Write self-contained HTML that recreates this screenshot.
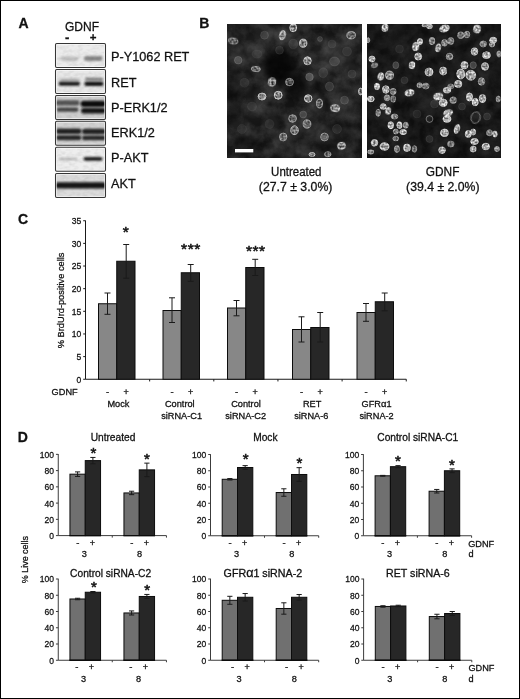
<!DOCTYPE html>
<html lang="en"><head><meta charset="utf-8"><title>Figure</title>
<style>html,body{margin:0;padding:0;background:#fff;}svg{display:block;}text{font-family:"Liberation Sans", Arial, Helvetica, sans-serif;fill:#111;stroke:#111;stroke-width:0.28px;}</style></head><body>
<svg width="520" height="699" viewBox="0 0 520 699">
<defs>
<filter id="b0" x="-20%" y="-100%" width="140%" height="300%"><feGaussianBlur stdDeviation="1.2 0.75"/></filter>
<filter id="b1" x="-20%" y="-100%" width="140%" height="300%"><feGaussianBlur stdDeviation="1.1 0.9"/></filter>
<filter id="b2" x="-20%" y="-100%" width="140%" height="300%"><feGaussianBlur stdDeviation="1.6 1.3"/></filter>
<filter id="b3" x="-50%" y="-50%" width="200%" height="200%"><feGaussianBlur stdDeviation="3"/></filter>
<filter id="n1" x="-30%" y="-30%" width="160%" height="160%"><feGaussianBlur stdDeviation="0.45"/></filter>
<filter id="n3" x="-30%" y="-30%" width="160%" height="160%"><feGaussianBlur stdDeviation="0.7"/></filter>
<filter id="cb" x="-5%" y="-5%" width="110%" height="110%"><feGaussianBlur stdDeviation="1.3"/></filter>
<filter id="n2" x="-30%" y="-30%" width="160%" height="160%"><feGaussianBlur stdDeviation="1.2"/></filter>
<filter id="sp" x="-5%" y="-5%" width="110%" height="110%" color-interpolation-filters="sRGB"><feTurbulence type="fractalNoise" baseFrequency="0.5" numOctaves="2" seed="3" result="t"/><feColorMatrix in="t" type="matrix" values="0 0 0 0 0  0 0 0 0 0  0 0 0 0 0  2.4 0 0 0 -0.68" result="m"/><feGaussianBlur in="SourceGraphic" stdDeviation="0.4" result="s"/><feComposite in="s" in2="m" operator="in"/></filter>
<filter id="tx1" x="0" y="0" width="100%" height="100%" color-interpolation-filters="sRGB"><feTurbulence type="fractalNoise" baseFrequency="0.07" numOctaves="5" seed="11"/><feColorMatrix type="matrix" values="0.28 0 0 0 -0.092  0.28 0 0 0 -0.092  0.28 0 0 0 -0.092  0 0 0 0 1"/></filter>
<filter id="tx2" x="0" y="0" width="100%" height="100%" color-interpolation-filters="sRGB"><feTurbulence type="fractalNoise" baseFrequency="0.1" numOctaves="5" seed="5"/><feColorMatrix type="matrix" values="0.13 0 0 0 -0.04  0.13 0 0 0 -0.04  0.13 0 0 0 -0.04  0 0 0 0 1"/></filter>
<filter id="bn" x="0" y="0" width="100%" height="100%" color-interpolation-filters="sRGB"><feTurbulence type="fractalNoise" baseFrequency="0.18 0.3" numOctaves="2" seed="2"/><feColorMatrix type="matrix" values="0 0 0 0 0  0 0 0 0 0  0 0 0 0 0  0.9 0 0 0 -0.33"/></filter>
<radialGradient id="gN"><stop offset="0" stop-color="#fff" stop-opacity="0.55"/><stop offset="0.7" stop-color="#fff" stop-opacity="0.6"/><stop offset="1" stop-color="#fff" stop-opacity="0.95"/></radialGradient>
</defs>
<rect x="0" y="0" width="520" height="699" fill="#fff"/>
<text x="18.60" y="27.80" font-size="14" text-anchor="start" font-weight="bold" >A</text>
<text x="199.30" y="27.80" font-size="14" text-anchor="start" font-weight="bold" >B</text>
<text x="18.00" y="223.80" font-size="14" text-anchor="start" font-weight="bold" >C</text>
<text x="17.80" y="441.80" font-size="14" text-anchor="start" font-weight="bold" >D</text>
<text x="82.00" y="31.00" font-size="12" text-anchor="middle" font-weight="normal" >GDNF</text>
<text x="67.20" y="42.00" font-size="13" text-anchor="middle" font-weight="bold" >-</text>
<text x="93.20" y="40.60" font-size="11.5" text-anchor="middle" font-weight="bold" >+</text>
<clipPath id="cb0"><rect x="55.5" y="43.5" width="50.0" height="24.0"/></clipPath>
<rect x="55.5" y="43.5" width="50.0" height="24.0" fill="#ececec"/>
<g clip-path="url(#cb0)">
<rect x="60.5" y="56.50" width="18.0" height="4.6" rx="2.30" fill="#aaa" opacity="0.7" filter="url(#b2)"/>
<rect x="84" y="56.10" width="18.5" height="5" rx="2.50" fill="#777" opacity="0.85" filter="url(#b1)"/>
<rect x="55.5" y="43.5" width="50.0" height="24.0" filter="url(#bn)" opacity="0.16"/>
</g>
<rect x="56.5" y="44.5" width="48.0" height="22.0" fill="none" stroke="#fff" stroke-opacity="0.55" stroke-width="1"/>
<rect x="55.5" y="43.5" width="50.0" height="24.0" rx="1.2" fill="none" stroke="#363636" stroke-width="1.05"/>
<text x="111.10" y="61.20" font-size="12.7" text-anchor="start" font-weight="normal" >P-Y1062 RET</text>
<clipPath id="cb1"><rect x="55.5" y="69.5" width="50.0" height="24.0"/></clipPath>
<rect x="55.5" y="69.5" width="50.0" height="24.0" fill="#e8e8e8"/>
<g clip-path="url(#cb1)">
<rect x="58.5" y="81.55" width="21.5" height="4.3" rx="2.15" fill="#1c1c1c" opacity="1" filter="url(#b1)"/>
<rect x="60" y="78.40" width="19" height="3.2" rx="1.60" fill="#888" opacity="0.6" filter="url(#b2)"/>
<rect x="84.3" y="81.50" width="19.200000000000003" height="4.4" rx="2.20" fill="#181818" opacity="1" filter="url(#b1)"/>
<rect x="85" y="77.80" width="18" height="2.8" rx="1.40" fill="#5a5a5a" opacity="0.8" filter="url(#b1)"/>
<rect x="55.5" y="69.5" width="50.0" height="24.0" filter="url(#bn)" opacity="0.16"/>
</g>
<rect x="56.5" y="70.5" width="48.0" height="22.0" fill="none" stroke="#fff" stroke-opacity="0.55" stroke-width="1"/>
<rect x="55.5" y="69.5" width="50.0" height="24.0" rx="1.2" fill="none" stroke="#363636" stroke-width="1.05"/>
<text x="111.10" y="86.50" font-size="12.7" text-anchor="start" font-weight="normal" >RET</text>
<clipPath id="cb2"><rect x="55.5" y="95.5" width="50.0" height="24.0"/></clipPath>
<rect x="55.5" y="95.5" width="50.0" height="24.0" fill="#cfcfcf"/>
<g clip-path="url(#cb2)">
<rect x="55.5" y="100.30" width="24.0" height="5.2" rx="2.60" fill="#484848" opacity="0.92" filter="url(#b1)"/>
<rect x="56.5" y="107.60" width="22.0" height="4.2" rx="2.10" fill="#383838" opacity="0.92" filter="url(#b1)"/>
<rect x="80.5" y="100.70" width="25.5" height="6.2" rx="3.10" fill="#111" opacity="1" filter="url(#b1)"/>
<rect x="81" y="108.10" width="25" height="5.4" rx="2.70" fill="#141414" opacity="1" filter="url(#b1)"/>
<rect x="55.5" y="95.5" width="50.0" height="24.0" filter="url(#bn)" opacity="0.16"/>
</g>
<rect x="56.5" y="96.5" width="48.0" height="22.0" fill="none" stroke="#fff" stroke-opacity="0.55" stroke-width="1"/>
<rect x="55.5" y="95.5" width="50.0" height="24.0" rx="1.2" fill="none" stroke="#363636" stroke-width="1.05"/>
<text x="111.10" y="111.80" font-size="12.7" text-anchor="start" font-weight="normal" >P-ERK1/2</text>
<clipPath id="cb3"><rect x="55.5" y="121.3" width="50.0" height="24.0"/></clipPath>
<rect x="55.5" y="121.3" width="50.0" height="24.0" fill="#d2d2d2"/>
<g clip-path="url(#cb3)">
<rect x="56" y="128.45" width="25.5" height="5.5" rx="2.75" fill="#1e1e1e" opacity="0.97" filter="url(#b1)"/>
<rect x="82" y="128.65" width="24" height="5.5" rx="2.75" fill="#1e1e1e" opacity="0.97" filter="url(#b1)"/>
<rect x="56" y="135.25" width="25.5" height="4.9" rx="2.45" fill="#222" opacity="0.97" filter="url(#b1)"/>
<rect x="82" y="135.45" width="24" height="4.9" rx="2.45" fill="#222" opacity="0.97" filter="url(#b1)"/>
<rect x="55.5" y="121.3" width="50.0" height="24.0" filter="url(#bn)" opacity="0.16"/>
</g>
<rect x="56.5" y="122.3" width="48.0" height="22.0" fill="none" stroke="#fff" stroke-opacity="0.55" stroke-width="1"/>
<rect x="55.5" y="121.3" width="50.0" height="24.0" rx="1.2" fill="none" stroke="#363636" stroke-width="1.05"/>
<text x="111.10" y="137.10" font-size="12.7" text-anchor="start" font-weight="normal" >ERK1/2</text>
<clipPath id="cb4"><rect x="55.5" y="147.3" width="50.0" height="24.0"/></clipPath>
<rect x="55.5" y="147.3" width="50.0" height="24.0" fill="#eeeeee"/>
<g clip-path="url(#cb4)">
<rect x="58.5" y="157.70" width="19.0" height="2.2" rx="1.10" fill="#999" opacity="0.7" filter="url(#b1)"/>
<rect x="83.5" y="156.90" width="19.0" height="3.8" rx="1.90" fill="#1a1a1a" opacity="1" filter="url(#b1)"/>
<rect x="55.5" y="147.3" width="50.0" height="24.0" filter="url(#bn)" opacity="0.16"/>
</g>
<rect x="56.5" y="148.3" width="48.0" height="22.0" fill="none" stroke="#fff" stroke-opacity="0.55" stroke-width="1"/>
<rect x="55.5" y="147.3" width="50.0" height="24.0" rx="1.2" fill="none" stroke="#363636" stroke-width="1.05"/>
<text x="111.10" y="162.40" font-size="12.7" text-anchor="start" font-weight="normal" >P-AKT</text>
<clipPath id="cb5"><rect x="55.5" y="173.4" width="50.0" height="24.0"/></clipPath>
<rect x="55.5" y="173.4" width="50.0" height="24.0" fill="#dcdcdc"/>
<g clip-path="url(#cb5)">
<rect x="55" y="182.20" width="52" height="6.4" rx="3.20" fill="#141414" opacity="1" filter="url(#b2)"/>
<rect x="55.5" y="173.4" width="50.0" height="24.0" filter="url(#bn)" opacity="0.16"/>
</g>
<rect x="56.5" y="174.4" width="48.0" height="22.0" fill="none" stroke="#fff" stroke-opacity="0.55" stroke-width="1"/>
<rect x="55.5" y="173.4" width="50.0" height="24.0" rx="1.2" fill="none" stroke="#363636" stroke-width="1.05"/>
<text x="111.10" y="187.70" font-size="12.7" text-anchor="start" font-weight="normal" >AKT</text>
<clipPath id="cm1"><rect x="227" y="24" width="135" height="134"/></clipPath>
<rect x="227" y="24" width="135" height="134" fill="#141414"/>
<rect x="227" y="24" width="135" height="134" filter="url(#tx1)" opacity="1" style="mix-blend-mode:screen"/>
<g clip-path="url(#cm1)">
<g filter="url(#cb)">
<ellipse cx="236.7" cy="61.1" rx="8.8" ry="9.6" fill="#fff" fill-opacity="0.042" transform="rotate(49 236.7 61.1)"/>
<ellipse cx="308.5" cy="77.9" rx="8.9" ry="7.9" fill="#fff" fill-opacity="0.042" transform="rotate(123 308.5 77.9)"/>
<ellipse cx="302.8" cy="115.6" rx="6.9" ry="7.2" fill="#fff" fill-opacity="0.042" transform="rotate(162 302.8 115.6)"/>
<ellipse cx="328.9" cy="85.5" rx="9.9" ry="10.5" fill="#fff" fill-opacity="0.042" transform="rotate(27 328.9 85.5)"/>
<ellipse cx="334.7" cy="62.2" rx="10.1" ry="10.6" fill="#fff" fill-opacity="0.042" transform="rotate(22 334.7 62.2)"/>
<ellipse cx="263.8" cy="33.6" rx="8.2" ry="10.3" fill="#fff" fill-opacity="0.042" transform="rotate(73 263.8 33.6)"/>
<ellipse cx="322.0" cy="38.8" rx="5.8" ry="6.3" fill="#fff" fill-opacity="0.042" transform="rotate(124 322.0 38.8)"/>
<ellipse cx="342.9" cy="100.6" rx="9.4" ry="8.1" fill="#fff" fill-opacity="0.042" transform="rotate(17 342.9 100.6)"/>
<ellipse cx="281.0" cy="50.3" rx="8.1" ry="8.9" fill="#fff" fill-opacity="0.042" transform="rotate(39 281.0 50.3)"/>
<ellipse cx="294.4" cy="44.0" rx="8.9" ry="12.4" fill="#fff" fill-opacity="0.042" transform="rotate(16 294.4 44.0)"/>
<ellipse cx="322.4" cy="70.9" rx="10.9" ry="9.9" fill="#fff" fill-opacity="0.042" transform="rotate(95 322.4 70.9)"/>
<ellipse cx="242.9" cy="82.7" rx="10.7" ry="10.2" fill="#fff" fill-opacity="0.042" transform="rotate(82 242.9 82.7)"/>
<ellipse cx="346.9" cy="51.2" rx="10.4" ry="8.8" fill="#fff" fill-opacity="0.042" transform="rotate(85 346.9 51.2)"/>
<ellipse cx="250.9" cy="108.0" rx="11.5" ry="8.8" fill="#fff" fill-opacity="0.042" transform="rotate(26 250.9 108.0)"/>
<ellipse cx="270.3" cy="124.3" rx="8.6" ry="10.8" fill="#fff" fill-opacity="0.042" transform="rotate(170 270.3 124.3)"/>
<ellipse cx="336.7" cy="128.4" rx="10.3" ry="11.5" fill="#fff" fill-opacity="0.042" transform="rotate(47 336.7 128.4)"/>
<ellipse cx="241.2" cy="127.8" rx="10.5" ry="10.0" fill="#fff" fill-opacity="0.042" transform="rotate(46 241.2 127.8)"/>
<ellipse cx="351.6" cy="72.1" rx="8.5" ry="10.4" fill="#fff" fill-opacity="0.042" transform="rotate(105 351.6 72.1)"/>
<ellipse cx="331.1" cy="45.7" rx="8.6" ry="8.3" fill="#fff" fill-opacity="0.042" transform="rotate(6 331.1 45.7)"/>
<ellipse cx="255.6" cy="52.8" rx="10.3" ry="10.0" fill="#fff" fill-opacity="0.042" transform="rotate(48 255.6 52.8)"/>
<ellipse cx="292.2" cy="28.2" rx="9.5" ry="8.8" fill="#fff" fill-opacity="0.042" transform="rotate(137 292.2 28.2)"/>
<ellipse cx="282.0" cy="35.5" rx="7.0" ry="12.5" fill="#fff" fill-opacity="0.042" transform="rotate(136 282.0 35.5)"/>
<ellipse cx="303.3" cy="44.6" rx="8.5" ry="9.6" fill="#fff" fill-opacity="0.042" transform="rotate(173 303.3 44.6)"/>
<ellipse cx="351.4" cy="36.3" rx="9.9" ry="10.0" fill="#fff" fill-opacity="0.042" transform="rotate(110 351.4 36.3)"/>
<ellipse cx="232.2" cy="42.7" rx="11.4" ry="7.0" fill="#fff" fill-opacity="0.042" transform="rotate(47 232.2 42.7)"/>
<ellipse cx="254.2" cy="67.8" rx="11.1" ry="5.6" fill="#fff" fill-opacity="0.042" transform="rotate(47 254.2 67.8)"/>
<ellipse cx="307.3" cy="60.9" rx="8.6" ry="10.3" fill="#fff" fill-opacity="0.042" transform="rotate(46 307.3 60.9)"/>
<ellipse cx="271.5" cy="81.7" rx="7.9" ry="9.1" fill="#fff" fill-opacity="0.042" transform="rotate(26 271.5 81.7)"/>
<ellipse cx="290.4" cy="80.6" rx="9.9" ry="8.1" fill="#fff" fill-opacity="0.042" transform="rotate(116 290.4 80.6)"/>
<ellipse cx="262.6" cy="95.9" rx="10.7" ry="8.8" fill="#fff" fill-opacity="0.042" transform="rotate(100 262.6 95.9)"/>
<ellipse cx="276.4" cy="94.9" rx="8.7" ry="9.3" fill="#fff" fill-opacity="0.042" transform="rotate(168 276.4 94.9)"/>
<ellipse cx="309.7" cy="96.7" rx="9.4" ry="10.1" fill="#fff" fill-opacity="0.042" transform="rotate(98 309.7 96.7)"/>
<ellipse cx="317.9" cy="105.0" rx="7.2" ry="12.0" fill="#fff" fill-opacity="0.042" transform="rotate(157 317.9 105.0)"/>
<ellipse cx="336.6" cy="110.0" rx="9.1" ry="9.1" fill="#fff" fill-opacity="0.042" transform="rotate(55 336.6 110.0)"/>
<ellipse cx="291.0" cy="118.0" rx="9.7" ry="7.5" fill="#fff" fill-opacity="0.042" transform="rotate(81 291.0 118.0)"/>
<ellipse cx="308.1" cy="124.0" rx="9.5" ry="9.3" fill="#fff" fill-opacity="0.042" transform="rotate(175 308.1 124.0)"/>
<ellipse cx="293.5" cy="131.0" rx="9.8" ry="8.8" fill="#fff" fill-opacity="0.042" transform="rotate(179 293.5 131.0)"/>
<ellipse cx="282.2" cy="139.0" rx="10.1" ry="10.6" fill="#fff" fill-opacity="0.042" transform="rotate(154 282.2 139.0)"/>
<ellipse cx="324.1" cy="136.8" rx="9.0" ry="10.7" fill="#fff" fill-opacity="0.042" transform="rotate(5 324.1 136.8)"/>
<ellipse cx="340.0" cy="147.6" rx="10.3" ry="8.9" fill="#fff" fill-opacity="0.042" transform="rotate(174 340.0 147.6)"/>
<ellipse cx="312.1" cy="155.8" rx="7.2" ry="5.9" fill="#fff" fill-opacity="0.042" transform="rotate(13 312.1 155.8)"/>
<ellipse cx="360.3" cy="91.8" rx="5.7" ry="8.2" fill="#fff" fill-opacity="0.042" transform="rotate(123 360.3 91.8)"/>
<ellipse cx="329.6" cy="153.9" rx="7.1" ry="5.4" fill="#fff" fill-opacity="0.042" transform="rotate(155 329.6 153.9)"/>
</g>
<ellipse cx="270.7" cy="44.2" rx="10.9" ry="7.4" fill="#555" opacity="0.05" filter="url(#b3)"/>
<ellipse cx="276.4" cy="31.8" rx="10.0" ry="7.2" fill="#555" opacity="0.05" filter="url(#b3)"/>
<ellipse cx="236.4" cy="36.2" rx="9.5" ry="12.0" fill="#555" opacity="0.03" filter="url(#b3)"/>
<ellipse cx="257.1" cy="108.1" rx="12.7" ry="10.5" fill="#555" opacity="0.04" filter="url(#b3)"/>
<ellipse cx="358.8" cy="30.2" rx="12.2" ry="8.7" fill="#555" opacity="0.03" filter="url(#b3)"/>
<ellipse cx="242.9" cy="65.3" rx="11.9" ry="8.1" fill="#555" opacity="0.05" filter="url(#b3)"/>
<ellipse cx="313.3" cy="73.9" rx="10.3" ry="7.4" fill="#555" opacity="0.02" filter="url(#b3)"/>
<ellipse cx="254.8" cy="115.2" rx="9.6" ry="8.9" fill="#555" opacity="0.06" filter="url(#b3)"/>
<ellipse cx="288.2" cy="64.2" rx="11.8" ry="11.2" fill="#555" opacity="0.03" filter="url(#b3)"/>
<ellipse cx="304.5" cy="94.4" rx="12.3" ry="11.4" fill="#555" opacity="0.04" filter="url(#b3)"/>
<ellipse cx="359.3" cy="39.8" rx="9.5" ry="11.5" fill="#555" opacity="0.03" filter="url(#b3)"/>
<ellipse cx="293.0" cy="29.3" rx="11.0" ry="11.6" fill="#555" opacity="0.05" filter="url(#b3)"/>
<ellipse cx="345.2" cy="66.0" rx="11.2" ry="10.6" fill="#555" opacity="0.05" filter="url(#b3)"/>
<ellipse cx="288.6" cy="136.6" rx="12.7" ry="9.8" fill="#555" opacity="0.06" filter="url(#b3)"/>
<ellipse cx="235.2" cy="118.0" rx="10.9" ry="13.0" fill="#555" opacity="0.07" filter="url(#b3)"/>
<ellipse cx="265.4" cy="75.7" rx="11.0" ry="7.1" fill="#555" opacity="0.05" filter="url(#b3)"/>
<ellipse cx="249.7" cy="39.7" rx="7.4" ry="11.6" fill="#555" opacity="0.03" filter="url(#b3)"/>
<ellipse cx="260.4" cy="76.4" rx="12.2" ry="7.5" fill="#555" opacity="0.05" filter="url(#b3)"/>
<ellipse cx="301.2" cy="142.4" rx="11.9" ry="12.2" fill="#555" opacity="0.04" filter="url(#b3)"/>
<ellipse cx="283.1" cy="72.1" rx="12.3" ry="12.7" fill="#555" opacity="0.03" filter="url(#b3)"/>
<ellipse cx="250.8" cy="55.1" rx="8.4" ry="9.9" fill="#555" opacity="0.06" filter="url(#b3)"/>
<ellipse cx="262.5" cy="24.5" rx="9.5" ry="9.2" fill="#555" opacity="0.05" filter="url(#b3)"/>
<ellipse cx="355.7" cy="116.5" rx="10.1" ry="10.7" fill="#555" opacity="0.06" filter="url(#b3)"/>
<ellipse cx="234.3" cy="144.5" rx="11.7" ry="12.2" fill="#555" opacity="0.07" filter="url(#b3)"/>
<ellipse cx="280.0" cy="77.5" rx="7.6" ry="10.8" fill="#555" opacity="0.02" filter="url(#b3)"/>
<ellipse cx="236.1" cy="52.0" rx="8.0" ry="9.0" fill="#555" opacity="0.02" filter="url(#b3)"/>
<ellipse cx="227.0" cy="44.3" rx="7.6" ry="9.2" fill="#555" opacity="0.02" filter="url(#b3)"/>
<ellipse cx="345.0" cy="106.3" rx="7.9" ry="8.5" fill="#555" opacity="0.04" filter="url(#b3)"/>
<ellipse cx="276.2" cy="40.5" rx="12.1" ry="13.0" fill="#555" opacity="0.05" filter="url(#b3)"/>
<ellipse cx="292.3" cy="35.5" rx="7.6" ry="9.1" fill="#555" opacity="0.04" filter="url(#b3)"/>
<ellipse cx="338.9" cy="45.6" rx="7.1" ry="12.7" fill="#555" opacity="0.05" filter="url(#b3)"/>
<ellipse cx="246.8" cy="96.8" rx="7.2" ry="10.2" fill="#555" opacity="0.08" filter="url(#b3)"/>
<ellipse cx="343.5" cy="117.3" rx="8.6" ry="9.2" fill="#555" opacity="0.03" filter="url(#b3)"/>
<ellipse cx="331.2" cy="95.4" rx="11.7" ry="9.0" fill="#555" opacity="0.03" filter="url(#b3)"/>
<ellipse cx="336.6" cy="156.0" rx="12.1" ry="11.8" fill="#555" opacity="0.07" filter="url(#b3)"/>
<ellipse cx="326.9" cy="54.4" rx="10.1" ry="9.1" fill="#555" opacity="0.02" filter="url(#b3)"/>
<ellipse cx="230.8" cy="61.4" rx="8.6" ry="11.2" fill="#555" opacity="0.08" filter="url(#b3)"/>
<ellipse cx="287.4" cy="149.6" rx="12.9" ry="12.7" fill="#555" opacity="0.04" filter="url(#b3)"/>
<ellipse cx="256.8" cy="54.4" rx="8.2" ry="8.2" fill="#555" opacity="0.06" filter="url(#b3)"/>
<ellipse cx="348.5" cy="136.6" rx="9.9" ry="10.9" fill="#555" opacity="0.07" filter="url(#b3)"/>
<ellipse cx="279.0" cy="66.0" rx="16.0" ry="18.0" fill="#000" opacity="0.75" filter="url(#b3)"/>
<ellipse cx="297.0" cy="86.0" rx="12.0" ry="14.0" fill="#000" opacity="0.6" filter="url(#b3)"/>
<ellipse cx="247.0" cy="144.0" rx="14.0" ry="10.0" fill="#000" opacity="0.35" filter="url(#b3)"/>
<ellipse cx="327.0" cy="149.0" rx="10.0" ry="8.0" fill="#000" opacity="0.3" filter="url(#b3)"/>
<ellipse cx="235.0" cy="94.0" rx="6.0" ry="30.0" fill="#000" opacity="0.4" filter="url(#b3)"/>
<ellipse cx="339.0" cy="132.0" rx="16.0" ry="14.0" fill="#000" opacity="0.3" filter="url(#b3)"/>
<ellipse cx="322.0" cy="84.0" rx="10.0" ry="10.0" fill="#000" opacity="0.25" filter="url(#b3)"/>
<ellipse cx="332.0" cy="54.0" rx="22.0" ry="16.0" fill="#666" opacity="0.12" filter="url(#b3)"/>
<ellipse cx="345.0" cy="99.0" rx="14.0" ry="22.0" fill="#666" opacity="0.1" filter="url(#b3)"/>
<ellipse cx="257.0" cy="49.0" rx="18.0" ry="12.0" fill="#666" opacity="0.1" filter="url(#b3)"/>
<ellipse cx="312.0" cy="124.0" rx="18.0" ry="12.0" fill="#666" opacity="0.06" filter="url(#b3)"/>
<ellipse cx="238.2" cy="60.2" rx="3.8" ry="3.8" fill="#fff" fill-opacity="0.15" stroke="#fff" stroke-opacity="0.17" stroke-width="0.8" filter="url(#n3)" transform="rotate(0 238.2 60.2)"/>
<ellipse cx="309.5" cy="77.0" rx="3.8" ry="3.8" fill="#fff" fill-opacity="0.18" stroke="#fff" stroke-opacity="0.19" stroke-width="0.8" filter="url(#n3)" transform="rotate(0 309.5 77.0)"/>
<ellipse cx="303.2" cy="114.5" rx="3.5" ry="3.5" fill="#fff" fill-opacity="0.14" stroke="#fff" stroke-opacity="0.15" stroke-width="0.8" filter="url(#n3)" transform="rotate(0 303.2 114.5)"/>
<ellipse cx="329.5" cy="86.5" rx="4.0" ry="4.5" fill="#fff" fill-opacity="0.11" stroke="#fff" stroke-opacity="0.12" stroke-width="0.8" filter="url(#n3)" transform="rotate(0 329.5 86.5)"/>
<ellipse cx="334.5" cy="61.5" rx="5.0" ry="4.5" fill="#fff" fill-opacity="0.11" stroke="#fff" stroke-opacity="0.12" stroke-width="0.8" filter="url(#n3)" transform="rotate(0 334.5 61.5)"/>
<ellipse cx="264.5" cy="35.2" rx="4.0" ry="4.0" fill="#fff" fill-opacity="0.09" stroke="#fff" stroke-opacity="0.10" stroke-width="0.8" filter="url(#n3)" transform="rotate(0 264.5 35.2)"/>
<ellipse cx="320.0" cy="39.0" rx="2.5" ry="2.5" fill="#fff" fill-opacity="0.11" stroke="#fff" stroke-opacity="0.12" stroke-width="0.8" filter="url(#n3)" transform="rotate(0 320.0 39.0)"/>
<ellipse cx="344.5" cy="100.2" rx="4.0" ry="4.0" fill="#fff" fill-opacity="0.11" stroke="#fff" stroke-opacity="0.12" stroke-width="0.8" filter="url(#n3)" transform="rotate(0 344.5 100.2)"/>
<ellipse cx="279.5" cy="50.2" rx="4.0" ry="4.0" fill="#fff" fill-opacity="0.08" stroke="#fff" stroke-opacity="0.08" stroke-width="0.8" filter="url(#n3)" transform="rotate(0 279.5 50.2)"/>
<ellipse cx="293.2" cy="44.0" rx="4.5" ry="5.0" fill="#fff" fill-opacity="0.07" stroke="#fff" stroke-opacity="0.07" stroke-width="0.8" filter="url(#n3)" transform="rotate(0 293.2 44.0)"/>
<ellipse cx="323.2" cy="72.8" rx="4.5" ry="5.0" fill="#fff" fill-opacity="0.08" stroke="#fff" stroke-opacity="0.08" stroke-width="0.8" filter="url(#n3)" transform="rotate(0 323.2 72.8)"/>
<ellipse cx="244.5" cy="82.8" rx="4.5" ry="4.5" fill="#fff" fill-opacity="0.06" stroke="#fff" stroke-opacity="0.06" stroke-width="0.8" filter="url(#n3)" transform="rotate(0 244.5 82.8)"/>
<ellipse cx="347.0" cy="51.5" rx="4.5" ry="4.5" fill="#fff" fill-opacity="0.07" stroke="#fff" stroke-opacity="0.07" stroke-width="0.8" filter="url(#n3)" transform="rotate(0 347.0 51.5)"/>
<ellipse cx="252.0" cy="106.5" rx="4.5" ry="4.5" fill="#fff" fill-opacity="0.06" stroke="#fff" stroke-opacity="0.06" stroke-width="0.8" filter="url(#n3)" transform="rotate(0 252.0 106.5)"/>
<ellipse cx="269.5" cy="124.0" rx="4.5" ry="4.5" fill="#fff" fill-opacity="0.06" stroke="#fff" stroke-opacity="0.06" stroke-width="0.8" filter="url(#n3)" transform="rotate(0 269.5 124.0)"/>
<ellipse cx="337.0" cy="129.0" rx="4.5" ry="4.5" fill="#fff" fill-opacity="0.07" stroke="#fff" stroke-opacity="0.07" stroke-width="0.8" filter="url(#n3)" transform="rotate(0 337.0 129.0)"/>
<ellipse cx="242.0" cy="129.0" rx="4.5" ry="4.5" fill="#fff" fill-opacity="0.04" stroke="#fff" stroke-opacity="0.05" stroke-width="0.8" filter="url(#n3)" transform="rotate(0 242.0 129.0)"/>
<ellipse cx="352.0" cy="74.0" rx="4.0" ry="4.0" fill="#fff" fill-opacity="0.07" stroke="#fff" stroke-opacity="0.07" stroke-width="0.8" filter="url(#n3)" transform="rotate(0 352.0 74.0)"/>
<ellipse cx="332.0" cy="44.0" rx="4.0" ry="4.0" fill="#fff" fill-opacity="0.06" stroke="#fff" stroke-opacity="0.06" stroke-width="0.8" filter="url(#n3)" transform="rotate(0 332.0 44.0)"/>
<ellipse cx="257.0" cy="54.0" rx="5.0" ry="4.0" fill="#fff" fill-opacity="0.04" stroke="#fff" stroke-opacity="0.05" stroke-width="0.8" filter="url(#n3)" transform="rotate(0 257.0 54.0)"/>
<g filter="url(#sp)">
<ellipse cx="293.2" cy="27.8" rx="3.7" ry="4.2" fill="#fff" opacity="0.67" transform="rotate(0 293.2 27.8)"/>
<ellipse cx="282.5" cy="35.2" rx="3.0" ry="4.9" fill="#fff" opacity="0.67" transform="rotate(15 282.5 35.2)"/>
<ellipse cx="303.2" cy="43.2" rx="4.0" ry="4.4" fill="#fff" opacity="0.62" transform="rotate(0 303.2 43.2)"/>
<ellipse cx="351.2" cy="35.2" rx="4.7" ry="4.0" fill="#fff" opacity="0.44" transform="rotate(0 351.2 35.2)"/>
<ellipse cx="233.2" cy="41.0" rx="5.1" ry="3.3" fill="#fff" opacity="0.40" transform="rotate(10 233.2 41.0)"/>
<ellipse cx="255.8" cy="69.0" rx="4.7" ry="2.8" fill="#fff" opacity="0.48" transform="rotate(5 255.8 69.0)"/>
<ellipse cx="307.5" cy="60.8" rx="4.0" ry="4.2" fill="#fff" opacity="0.62" transform="rotate(0 307.5 60.8)"/>
<ellipse cx="272.0" cy="82.0" rx="4.0" ry="4.4" fill="#fff" opacity="0.67" transform="rotate(10 272.0 82.0)"/>
<ellipse cx="289.5" cy="82.0" rx="4.2" ry="4.0" fill="#fff" opacity="0.44" transform="rotate(0 289.5 82.0)"/>
<ellipse cx="262.0" cy="96.5" rx="4.2" ry="3.7" fill="#fff" opacity="0.62" transform="rotate(0 262.0 96.5)"/>
<ellipse cx="278.2" cy="95.2" rx="4.2" ry="4.2" fill="#fff" opacity="0.67" transform="rotate(0 278.2 95.2)"/>
<ellipse cx="308.2" cy="98.5" rx="4.0" ry="4.0" fill="#fff" opacity="0.67" transform="rotate(0 308.2 98.5)"/>
<ellipse cx="319.5" cy="103.5" rx="3.3" ry="4.7" fill="#fff" opacity="0.44" transform="rotate(0 319.5 103.5)"/>
<ellipse cx="335.2" cy="108.2" rx="4.7" ry="3.7" fill="#fff" opacity="0.67" transform="rotate(10 335.2 108.2)"/>
<ellipse cx="292.5" cy="118.5" rx="4.2" ry="4.0" fill="#fff" opacity="0.44" transform="rotate(0 292.5 118.5)"/>
<ellipse cx="307.0" cy="124.0" rx="4.2" ry="4.4" fill="#fff" opacity="0.48" transform="rotate(0 307.0 124.0)"/>
<ellipse cx="294.5" cy="130.2" rx="4.2" ry="4.7" fill="#fff" opacity="0.53" transform="rotate(0 294.5 130.2)"/>
<ellipse cx="283.2" cy="137.0" rx="4.0" ry="4.2" fill="#fff" opacity="0.44" transform="rotate(0 283.2 137.0)"/>
<ellipse cx="324.5" cy="137.0" rx="4.2" ry="4.2" fill="#fff" opacity="0.40" transform="rotate(0 324.5 137.0)"/>
<ellipse cx="341.5" cy="145.8" rx="4.2" ry="3.7" fill="#fff" opacity="0.67" transform="rotate(-10 341.5 145.8)"/>
<ellipse cx="312.0" cy="154.5" rx="3.3" ry="2.3" fill="#fff" opacity="0.53" transform="rotate(0 312.0 154.5)"/>
<ellipse cx="360.5" cy="91.5" rx="2.3" ry="3.7" fill="#fff" opacity="0.53" transform="rotate(0 360.5 91.5)"/>
<ellipse cx="327.8" cy="154.2" rx="3.5" ry="2.8" fill="#fff" opacity="0.44" transform="rotate(0 327.8 154.2)"/>
</g>
<ellipse cx="293.2" cy="27.8" rx="3.4" ry="3.9" fill="#fff" fill-opacity="0.09" stroke="#fff" stroke-opacity="0.79" stroke-width="0.75" filter="url(#n1)" transform="rotate(0 293.2 27.8)"/>
<ellipse cx="282.5" cy="35.2" rx="2.7" ry="4.6" fill="#fff" fill-opacity="0.09" stroke="#fff" stroke-opacity="0.79" stroke-width="0.75" filter="url(#n1)" transform="rotate(15 282.5 35.2)"/>
<ellipse cx="303.2" cy="43.2" rx="3.7" ry="4.1" fill="#fff" fill-opacity="0.09" stroke="#fff" stroke-opacity="0.73" stroke-width="0.75" filter="url(#n1)" transform="rotate(0 303.2 43.2)"/>
<ellipse cx="351.2" cy="35.2" rx="4.4" ry="3.7" fill="#fff" fill-opacity="0.06" stroke="#fff" stroke-opacity="0.52" stroke-width="0.75" filter="url(#n1)" transform="rotate(0 351.2 35.2)"/>
<ellipse cx="233.2" cy="41.0" rx="4.8" ry="3.0" fill="#fff" fill-opacity="0.06" stroke="#fff" stroke-opacity="0.47" stroke-width="0.75" filter="url(#n1)" transform="rotate(10 233.2 41.0)"/>
<ellipse cx="255.8" cy="69.0" rx="4.4" ry="2.5" fill="#fff" fill-opacity="0.07" stroke="#fff" stroke-opacity="0.57" stroke-width="0.75" filter="url(#n1)" transform="rotate(5 255.8 69.0)"/>
<ellipse cx="307.5" cy="60.8" rx="3.7" ry="3.9" fill="#fff" fill-opacity="0.09" stroke="#fff" stroke-opacity="0.73" stroke-width="0.75" filter="url(#n1)" transform="rotate(0 307.5 60.8)"/>
<ellipse cx="272.0" cy="82.0" rx="3.7" ry="4.1" fill="#fff" fill-opacity="0.09" stroke="#fff" stroke-opacity="0.79" stroke-width="0.75" filter="url(#n1)" transform="rotate(10 272.0 82.0)"/>
<ellipse cx="289.5" cy="82.0" rx="3.9" ry="3.7" fill="#fff" fill-opacity="0.06" stroke="#fff" stroke-opacity="0.52" stroke-width="0.75" filter="url(#n1)" transform="rotate(0 289.5 82.0)"/>
<ellipse cx="262.0" cy="96.5" rx="3.9" ry="3.4" fill="#fff" fill-opacity="0.09" stroke="#fff" stroke-opacity="0.73" stroke-width="0.75" filter="url(#n1)" transform="rotate(0 262.0 96.5)"/>
<ellipse cx="278.2" cy="95.2" rx="3.9" ry="3.9" fill="#fff" fill-opacity="0.09" stroke="#fff" stroke-opacity="0.79" stroke-width="0.75" filter="url(#n1)" transform="rotate(0 278.2 95.2)"/>
<ellipse cx="308.2" cy="98.5" rx="3.7" ry="3.7" fill="#fff" fill-opacity="0.09" stroke="#fff" stroke-opacity="0.79" stroke-width="0.75" filter="url(#n1)" transform="rotate(0 308.2 98.5)"/>
<ellipse cx="319.5" cy="103.5" rx="3.0" ry="4.4" fill="#fff" fill-opacity="0.06" stroke="#fff" stroke-opacity="0.52" stroke-width="0.75" filter="url(#n1)" transform="rotate(0 319.5 103.5)"/>
<ellipse cx="335.2" cy="108.2" rx="4.4" ry="3.4" fill="#fff" fill-opacity="0.09" stroke="#fff" stroke-opacity="0.79" stroke-width="0.75" filter="url(#n1)" transform="rotate(10 335.2 108.2)"/>
<ellipse cx="292.5" cy="118.5" rx="3.9" ry="3.7" fill="#fff" fill-opacity="0.06" stroke="#fff" stroke-opacity="0.52" stroke-width="0.75" filter="url(#n1)" transform="rotate(0 292.5 118.5)"/>
<ellipse cx="307.0" cy="124.0" rx="3.9" ry="4.1" fill="#fff" fill-opacity="0.07" stroke="#fff" stroke-opacity="0.57" stroke-width="0.75" filter="url(#n1)" transform="rotate(0 307.0 124.0)"/>
<ellipse cx="294.5" cy="130.2" rx="3.9" ry="4.4" fill="#fff" fill-opacity="0.07" stroke="#fff" stroke-opacity="0.62" stroke-width="0.75" filter="url(#n1)" transform="rotate(0 294.5 130.2)"/>
<ellipse cx="283.2" cy="137.0" rx="3.7" ry="3.9" fill="#fff" fill-opacity="0.06" stroke="#fff" stroke-opacity="0.52" stroke-width="0.75" filter="url(#n1)" transform="rotate(0 283.2 137.0)"/>
<ellipse cx="324.5" cy="137.0" rx="3.9" ry="3.9" fill="#fff" fill-opacity="0.06" stroke="#fff" stroke-opacity="0.47" stroke-width="0.75" filter="url(#n1)" transform="rotate(0 324.5 137.0)"/>
<ellipse cx="341.5" cy="145.8" rx="3.9" ry="3.4" fill="#fff" fill-opacity="0.09" stroke="#fff" stroke-opacity="0.79" stroke-width="0.75" filter="url(#n1)" transform="rotate(-10 341.5 145.8)"/>
<ellipse cx="312.0" cy="154.5" rx="3.0" ry="2.0" fill="#fff" fill-opacity="0.07" stroke="#fff" stroke-opacity="0.62" stroke-width="0.75" filter="url(#n1)" transform="rotate(0 312.0 154.5)"/>
<ellipse cx="360.5" cy="91.5" rx="2.0" ry="3.4" fill="#fff" fill-opacity="0.07" stroke="#fff" stroke-opacity="0.62" stroke-width="0.75" filter="url(#n1)" transform="rotate(0 360.5 91.5)"/>
<ellipse cx="327.8" cy="154.2" rx="3.2" ry="2.5" fill="#fff" fill-opacity="0.06" stroke="#fff" stroke-opacity="0.52" stroke-width="0.75" filter="url(#n1)" transform="rotate(0 327.8 154.2)"/>
</g>
<rect x="235" y="149" width="18.3" height="3.4" fill="#fff"/>
<clipPath id="cm2"><rect x="367" y="24" width="134" height="134"/></clipPath>
<rect x="367" y="24" width="134" height="134" fill="#0e0e0e"/>
<rect x="367" y="24" width="134" height="134" filter="url(#tx2)" opacity="1" style="mix-blend-mode:screen"/>
<g clip-path="url(#cm2)">
<g filter="url(#cb)">
<ellipse cx="396.3" cy="66.1" rx="7.7" ry="7.1" fill="#fff" fill-opacity="0.025" transform="rotate(12 396.3 66.1)"/>
<ellipse cx="474.5" cy="64.6" rx="7.0" ry="8.6" fill="#fff" fill-opacity="0.025" transform="rotate(33 474.5 64.6)"/>
<ellipse cx="406.1" cy="80.2" rx="6.8" ry="8.9" fill="#fff" fill-opacity="0.025" transform="rotate(103 406.1 80.2)"/>
<ellipse cx="432.8" cy="105.4" rx="9.8" ry="9.7" fill="#fff" fill-opacity="0.025" transform="rotate(118 432.8 105.4)"/>
<ellipse cx="419.0" cy="112.0" rx="10.3" ry="9.4" fill="#fff" fill-opacity="0.025" transform="rotate(46 419.0 112.0)"/>
<ellipse cx="462.4" cy="105.9" rx="8.2" ry="8.4" fill="#fff" fill-opacity="0.025" transform="rotate(94 462.4 105.9)"/>
<ellipse cx="485.4" cy="116.1" rx="7.4" ry="8.5" fill="#fff" fill-opacity="0.025" transform="rotate(168 485.4 116.1)"/>
<ellipse cx="400.6" cy="49.1" rx="8.1" ry="9.6" fill="#fff" fill-opacity="0.025" transform="rotate(48 400.6 49.1)"/>
<ellipse cx="431.5" cy="137.7" rx="9.0" ry="6.7" fill="#fff" fill-opacity="0.025" transform="rotate(140 431.5 137.7)"/>
<ellipse cx="384.4" cy="28.0" rx="7.3" ry="8.5" fill="#fff" fill-opacity="0.025" transform="rotate(79 384.4 28.0)"/>
<ellipse cx="430.8" cy="25.9" rx="7.2" ry="5.8" fill="#fff" fill-opacity="0.025" transform="rotate(32 430.8 25.9)"/>
<ellipse cx="443.9" cy="28.6" rx="11.8" ry="7.2" fill="#fff" fill-opacity="0.025" transform="rotate(138 443.9 28.6)"/>
<ellipse cx="477.0" cy="27.4" rx="8.1" ry="8.3" fill="#fff" fill-opacity="0.025" transform="rotate(62 477.0 27.4)"/>
<ellipse cx="491.7" cy="39.3" rx="8.7" ry="7.9" fill="#fff" fill-opacity="0.025" transform="rotate(54 491.7 39.3)"/>
<ellipse cx="368.1" cy="40.3" rx="4.4" ry="7.2" fill="#fff" fill-opacity="0.025" transform="rotate(39 368.1 40.3)"/>
<ellipse cx="421.1" cy="41.7" rx="7.2" ry="7.9" fill="#fff" fill-opacity="0.025" transform="rotate(1 421.1 41.7)"/>
<ellipse cx="414.0" cy="47.7" rx="7.0" ry="10.5" fill="#fff" fill-opacity="0.025" transform="rotate(17 414.0 47.7)"/>
<ellipse cx="432.2" cy="40.6" rx="6.9" ry="7.7" fill="#fff" fill-opacity="0.025" transform="rotate(161 432.2 40.6)"/>
<ellipse cx="439.6" cy="48.7" rx="6.1" ry="8.8" fill="#fff" fill-opacity="0.025" transform="rotate(35 439.6 48.7)"/>
<ellipse cx="445.9" cy="42.1" rx="6.7" ry="9.0" fill="#fff" fill-opacity="0.025" transform="rotate(62 445.9 42.1)"/>
<ellipse cx="452.7" cy="39.7" rx="8.3" ry="8.0" fill="#fff" fill-opacity="0.025" transform="rotate(25 452.7 39.7)"/>
<ellipse cx="460.6" cy="36.5" rx="7.0" ry="8.3" fill="#fff" fill-opacity="0.025" transform="rotate(154 460.6 36.5)"/>
<ellipse cx="465.1" cy="34.5" rx="6.5" ry="7.9" fill="#fff" fill-opacity="0.025" transform="rotate(150 465.1 34.5)"/>
<ellipse cx="483.0" cy="43.2" rx="7.3" ry="8.2" fill="#fff" fill-opacity="0.025" transform="rotate(27 483.0 43.2)"/>
<ellipse cx="492.9" cy="46.5" rx="6.8" ry="7.2" fill="#fff" fill-opacity="0.025" transform="rotate(22 492.9 46.5)"/>
<ellipse cx="474.9" cy="51.9" rx="7.0" ry="8.9" fill="#fff" fill-opacity="0.025" transform="rotate(55 474.9 51.9)"/>
<ellipse cx="485.0" cy="54.9" rx="8.4" ry="9.1" fill="#fff" fill-opacity="0.025" transform="rotate(30 485.0 54.9)"/>
<ellipse cx="449.7" cy="57.3" rx="6.8" ry="9.1" fill="#fff" fill-opacity="0.025" transform="rotate(166 449.7 57.3)"/>
<ellipse cx="418.6" cy="56.6" rx="9.5" ry="8.8" fill="#fff" fill-opacity="0.025" transform="rotate(40 418.6 56.6)"/>
<ellipse cx="373.7" cy="57.8" rx="7.6" ry="7.6" fill="#fff" fill-opacity="0.025" transform="rotate(138 373.7 57.8)"/>
<ellipse cx="374.0" cy="65.8" rx="7.3" ry="6.2" fill="#fff" fill-opacity="0.025" transform="rotate(29 374.0 65.8)"/>
<ellipse cx="411.4" cy="65.3" rx="7.4" ry="9.6" fill="#fff" fill-opacity="0.025" transform="rotate(173 411.4 65.3)"/>
<ellipse cx="464.4" cy="63.5" rx="8.8" ry="9.3" fill="#fff" fill-opacity="0.025" transform="rotate(132 464.4 63.5)"/>
<ellipse cx="483.2" cy="67.7" rx="7.6" ry="10.0" fill="#fff" fill-opacity="0.025" transform="rotate(177 483.2 67.7)"/>
<ellipse cx="429.2" cy="71.8" rx="10.1" ry="8.5" fill="#fff" fill-opacity="0.025" transform="rotate(118 429.2 71.8)"/>
<ellipse cx="444.6" cy="72.7" rx="9.1" ry="10.3" fill="#fff" fill-opacity="0.025" transform="rotate(173 444.6 72.7)"/>
<ellipse cx="460.3" cy="73.3" rx="11.1" ry="10.2" fill="#fff" fill-opacity="0.025" transform="rotate(62 460.3 73.3)"/>
<ellipse cx="471.7" cy="77.0" rx="12.8" ry="10.6" fill="#fff" fill-opacity="0.025" transform="rotate(144 471.7 77.0)"/>
<ellipse cx="379.6" cy="76.6" rx="7.2" ry="10.5" fill="#fff" fill-opacity="0.025" transform="rotate(40 379.6 76.6)"/>
<ellipse cx="388.9" cy="74.5" rx="9.0" ry="9.1" fill="#fff" fill-opacity="0.025" transform="rotate(73 388.9 74.5)"/>
<ellipse cx="480.6" cy="80.5" rx="8.8" ry="8.0" fill="#fff" fill-opacity="0.025" transform="rotate(83 480.6 80.5)"/>
<ellipse cx="456.4" cy="82.2" rx="10.1" ry="9.3" fill="#fff" fill-opacity="0.025" transform="rotate(167 456.4 82.2)"/>
<ellipse cx="375.4" cy="87.6" rx="6.0" ry="8.7" fill="#fff" fill-opacity="0.025" transform="rotate(102 375.4 87.6)"/>
<ellipse cx="385.5" cy="90.0" rx="7.4" ry="9.2" fill="#fff" fill-opacity="0.025" transform="rotate(152 385.5 90.0)"/>
<ellipse cx="393.8" cy="92.5" rx="8.6" ry="6.6" fill="#fff" fill-opacity="0.025" transform="rotate(139 393.8 92.5)"/>
<ellipse cx="411.3" cy="92.9" rx="10.1" ry="7.8" fill="#fff" fill-opacity="0.025" transform="rotate(20 411.3 92.9)"/>
<ellipse cx="420.5" cy="86.2" rx="5.5" ry="6.5" fill="#fff" fill-opacity="0.025" transform="rotate(89 420.5 86.2)"/>
<ellipse cx="426.7" cy="85.7" rx="7.0" ry="6.4" fill="#fff" fill-opacity="0.025" transform="rotate(51 426.7 85.7)"/>
<ellipse cx="445.4" cy="89.0" rx="9.4" ry="7.8" fill="#fff" fill-opacity="0.025" transform="rotate(32 445.4 89.0)"/>
<ellipse cx="451.0" cy="86.4" rx="7.8" ry="7.3" fill="#fff" fill-opacity="0.025" transform="rotate(67 451.0 86.4)"/>
<ellipse cx="371.1" cy="99.0" rx="7.1" ry="6.9" fill="#fff" fill-opacity="0.025" transform="rotate(174 371.1 99.0)"/>
<ellipse cx="388.0" cy="96.6" rx="6.6" ry="6.8" fill="#fff" fill-opacity="0.025" transform="rotate(74 388.0 96.6)"/>
<ellipse cx="393.1" cy="97.5" rx="6.3" ry="9.2" fill="#fff" fill-opacity="0.025" transform="rotate(71 393.1 97.5)"/>
<ellipse cx="438.8" cy="98.4" rx="10.3" ry="7.6" fill="#fff" fill-opacity="0.025" transform="rotate(78 438.8 98.4)"/>
<ellipse cx="441.9" cy="101.0" rx="8.5" ry="9.6" fill="#fff" fill-opacity="0.025" transform="rotate(141 441.9 101.0)"/>
<ellipse cx="454.3" cy="98.8" rx="7.5" ry="9.0" fill="#fff" fill-opacity="0.025" transform="rotate(130 454.3 98.8)"/>
<ellipse cx="469.1" cy="98.0" rx="6.9" ry="8.4" fill="#fff" fill-opacity="0.025" transform="rotate(163 469.1 98.0)"/>
<ellipse cx="476.7" cy="102.0" rx="7.3" ry="10.3" fill="#fff" fill-opacity="0.025" transform="rotate(100 476.7 102.0)"/>
<ellipse cx="484.4" cy="96.5" rx="8.4" ry="8.9" fill="#fff" fill-opacity="0.025" transform="rotate(129 484.4 96.5)"/>
<ellipse cx="384.9" cy="104.6" rx="7.9" ry="7.6" fill="#fff" fill-opacity="0.025" transform="rotate(87 384.9 104.6)"/>
<ellipse cx="376.7" cy="112.7" rx="6.2" ry="8.7" fill="#fff" fill-opacity="0.025" transform="rotate(102 376.7 112.7)"/>
<ellipse cx="387.5" cy="110.3" rx="5.9" ry="9.2" fill="#fff" fill-opacity="0.025" transform="rotate(2 387.5 110.3)"/>
<ellipse cx="394.9" cy="117.2" rx="7.9" ry="6.3" fill="#fff" fill-opacity="0.025" transform="rotate(140 394.9 117.2)"/>
<ellipse cx="448.3" cy="111.0" rx="11.4" ry="8.0" fill="#fff" fill-opacity="0.025" transform="rotate(177 448.3 111.0)"/>
<ellipse cx="448.4" cy="117.2" rx="9.8" ry="7.2" fill="#fff" fill-opacity="0.025" transform="rotate(149 448.4 117.2)"/>
<ellipse cx="389.3" cy="125.3" rx="7.8" ry="7.7" fill="#fff" fill-opacity="0.025" transform="rotate(136 389.3 125.3)"/>
<ellipse cx="401.4" cy="125.0" rx="6.4" ry="7.0" fill="#fff" fill-opacity="0.025" transform="rotate(165 401.4 125.0)"/>
<ellipse cx="404.4" cy="126.2" rx="6.9" ry="6.9" fill="#fff" fill-opacity="0.025" transform="rotate(177 404.4 126.2)"/>
<ellipse cx="405.0" cy="132.5" rx="7.8" ry="6.4" fill="#fff" fill-opacity="0.025" transform="rotate(79 405.0 132.5)"/>
<ellipse cx="396.4" cy="133.4" rx="5.6" ry="6.0" fill="#fff" fill-opacity="0.025" transform="rotate(96 396.4 133.4)"/>
<ellipse cx="457.5" cy="129.8" rx="6.6" ry="11.8" fill="#fff" fill-opacity="0.025" transform="rotate(66 457.5 129.8)"/>
<ellipse cx="444.1" cy="133.0" rx="10.9" ry="8.3" fill="#fff" fill-opacity="0.025" transform="rotate(26 444.1 133.0)"/>
<ellipse cx="467.5" cy="134.8" rx="7.8" ry="8.4" fill="#fff" fill-opacity="0.025" transform="rotate(90 467.5 134.8)"/>
<ellipse cx="474.0" cy="133.4" rx="5.5" ry="7.5" fill="#fff" fill-opacity="0.025" transform="rotate(6 474.0 133.4)"/>
<ellipse cx="490.6" cy="132.7" rx="8.5" ry="7.9" fill="#fff" fill-opacity="0.025" transform="rotate(141 490.6 132.7)"/>
<ellipse cx="494.9" cy="135.1" rx="4.9" ry="6.7" fill="#fff" fill-opacity="0.025" transform="rotate(106 494.9 135.1)"/>
<ellipse cx="395.7" cy="138.7" rx="7.6" ry="6.0" fill="#fff" fill-opacity="0.025" transform="rotate(122 395.7 138.7)"/>
<ellipse cx="375.2" cy="142.4" rx="8.8" ry="8.5" fill="#fff" fill-opacity="0.025" transform="rotate(109 375.2 142.4)"/>
<ellipse cx="386.0" cy="147.2" rx="10.5" ry="8.4" fill="#fff" fill-opacity="0.025" transform="rotate(154 386.0 147.2)"/>
<ellipse cx="398.8" cy="148.7" rx="6.6" ry="8.8" fill="#fff" fill-opacity="0.025" transform="rotate(132 398.8 148.7)"/>
<ellipse cx="407.1" cy="148.6" rx="9.3" ry="8.4" fill="#fff" fill-opacity="0.025" transform="rotate(128 407.1 148.6)"/>
<ellipse cx="415.6" cy="149.4" rx="6.7" ry="9.1" fill="#fff" fill-opacity="0.025" transform="rotate(44 415.6 149.4)"/>
<ellipse cx="450.4" cy="145.5" rx="8.9" ry="6.8" fill="#fff" fill-opacity="0.025" transform="rotate(39 450.4 145.5)"/>
<ellipse cx="440.6" cy="152.2" rx="6.9" ry="8.8" fill="#fff" fill-opacity="0.025" transform="rotate(134 440.6 152.2)"/>
<ellipse cx="474.5" cy="139.7" rx="8.9" ry="8.6" fill="#fff" fill-opacity="0.025" transform="rotate(21 474.5 139.7)"/>
<ellipse cx="472.9" cy="150.1" rx="6.9" ry="7.1" fill="#fff" fill-opacity="0.025" transform="rotate(93 472.9 150.1)"/>
<ellipse cx="485.5" cy="147.1" rx="10.4" ry="6.8" fill="#fff" fill-opacity="0.025" transform="rotate(127 485.5 147.1)"/>
<ellipse cx="424.1" cy="23.7" rx="6.8" ry="4.6" fill="#fff" fill-opacity="0.025" transform="rotate(136 424.1 23.7)"/>
<ellipse cx="371.0" cy="150.1" rx="7.0" ry="5.8" fill="#fff" fill-opacity="0.025" transform="rotate(35 371.0 150.1)"/>
<ellipse cx="497.7" cy="148.3" rx="6.5" ry="6.9" fill="#fff" fill-opacity="0.025" transform="rotate(60 497.7 148.3)"/>
<ellipse cx="497.5" cy="55.9" rx="5.3" ry="8.2" fill="#fff" fill-opacity="0.025" transform="rotate(24 497.5 55.9)"/>
<ellipse cx="498.9" cy="100.2" rx="5.5" ry="8.0" fill="#fff" fill-opacity="0.025" transform="rotate(173 498.9 100.2)"/>
</g>
<ellipse cx="378.4" cy="112.5" rx="11.5" ry="10.9" fill="#444" opacity="0.1" filter="url(#b3)"/>
<ellipse cx="431.1" cy="47.9" rx="10.9" ry="8.7" fill="#444" opacity="0.1" filter="url(#b3)"/>
<ellipse cx="497.2" cy="77.0" rx="9.0" ry="11.7" fill="#444" opacity="0.1" filter="url(#b3)"/>
<ellipse cx="389.8" cy="41.0" rx="7.8" ry="11.5" fill="#444" opacity="0.1" filter="url(#b3)"/>
<ellipse cx="386.6" cy="134.8" rx="11.9" ry="10.3" fill="#444" opacity="0.06" filter="url(#b3)"/>
<ellipse cx="440.5" cy="41.6" rx="7.1" ry="11.9" fill="#444" opacity="0.09" filter="url(#b3)"/>
<ellipse cx="437.6" cy="149.1" rx="9.2" ry="11.4" fill="#444" opacity="0.1" filter="url(#b3)"/>
<ellipse cx="395.3" cy="57.7" rx="8.5" ry="8.2" fill="#444" opacity="0.08" filter="url(#b3)"/>
<ellipse cx="401.8" cy="80.1" rx="7.7" ry="11.6" fill="#444" opacity="0.06" filter="url(#b3)"/>
<ellipse cx="428.4" cy="102.2" rx="11.5" ry="9.1" fill="#444" opacity="0.11" filter="url(#b3)"/>
<ellipse cx="434.2" cy="95.3" rx="9.6" ry="7.1" fill="#444" opacity="0.07" filter="url(#b3)"/>
<ellipse cx="391.5" cy="24.5" rx="11.0" ry="7.9" fill="#444" opacity="0.07" filter="url(#b3)"/>
<ellipse cx="464.2" cy="98.6" rx="8.6" ry="9.6" fill="#444" opacity="0.08" filter="url(#b3)"/>
<ellipse cx="472.1" cy="38.2" rx="9.8" ry="8.2" fill="#444" opacity="0.05" filter="url(#b3)"/>
<ellipse cx="470.5" cy="92.0" rx="9.8" ry="10.8" fill="#444" opacity="0.11" filter="url(#b3)"/>
<ellipse cx="426.4" cy="106.1" rx="9.5" ry="9.6" fill="#444" opacity="0.09" filter="url(#b3)"/>
<ellipse cx="427.6" cy="95.5" rx="9.4" ry="11.7" fill="#444" opacity="0.09" filter="url(#b3)"/>
<ellipse cx="484.5" cy="150.3" rx="8.3" ry="9.8" fill="#444" opacity="0.11" filter="url(#b3)"/>
<ellipse cx="479.6" cy="42.4" rx="7.6" ry="9.2" fill="#444" opacity="0.04" filter="url(#b3)"/>
<ellipse cx="399.2" cy="33.8" rx="10.3" ry="10.9" fill="#444" opacity="0.11" filter="url(#b3)"/>
<ellipse cx="387.7" cy="120.0" rx="10.3" ry="7.7" fill="#444" opacity="0.11" filter="url(#b3)"/>
<ellipse cx="496.7" cy="53.4" rx="11.8" ry="9.0" fill="#444" opacity="0.07" filter="url(#b3)"/>
<ellipse cx="499.6" cy="135.5" rx="7.8" ry="9.2" fill="#444" opacity="0.08" filter="url(#b3)"/>
<ellipse cx="412.4" cy="50.2" rx="8.6" ry="10.6" fill="#444" opacity="0.03" filter="url(#b3)"/>
<ellipse cx="441.2" cy="83.0" rx="7.1" ry="8.7" fill="#444" opacity="0.09" filter="url(#b3)"/>
<ellipse cx="395.8" cy="65.2" rx="3.0" ry="3.5" fill="#fff" fill-opacity="0.17" stroke="#fff" stroke-opacity="0.18" stroke-width="0.8" filter="url(#n3)" transform="rotate(0 395.8 65.2)"/>
<ellipse cx="473.2" cy="65.2" rx="3.2" ry="3.5" fill="#fff" fill-opacity="0.19" stroke="#fff" stroke-opacity="0.21" stroke-width="0.8" filter="url(#n3)" transform="rotate(0 473.2 65.2)"/>
<ellipse cx="404.5" cy="80.2" rx="3.5" ry="3.5" fill="#fff" fill-opacity="0.08" stroke="#fff" stroke-opacity="0.09" stroke-width="0.8" filter="url(#n3)" transform="rotate(0 404.5 80.2)"/>
<ellipse cx="434.5" cy="104.0" rx="4.0" ry="4.0" fill="#fff" fill-opacity="0.07" stroke="#fff" stroke-opacity="0.07" stroke-width="0.8" filter="url(#n3)" transform="rotate(0 434.5 104.0)"/>
<ellipse cx="417.0" cy="114.0" rx="4.0" ry="4.0" fill="#fff" fill-opacity="0.06" stroke="#fff" stroke-opacity="0.06" stroke-width="0.8" filter="url(#n3)" transform="rotate(0 417.0 114.0)"/>
<ellipse cx="462.0" cy="106.5" rx="3.5" ry="3.5" fill="#fff" fill-opacity="0.08" stroke="#fff" stroke-opacity="0.09" stroke-width="0.8" filter="url(#n3)" transform="rotate(0 462.0 106.5)"/>
<ellipse cx="487.0" cy="116.5" rx="3.5" ry="3.5" fill="#fff" fill-opacity="0.08" stroke="#fff" stroke-opacity="0.09" stroke-width="0.8" filter="url(#n3)" transform="rotate(0 487.0 116.5)"/>
<ellipse cx="399.5" cy="49.0" rx="4.0" ry="4.0" fill="#fff" fill-opacity="0.06" stroke="#fff" stroke-opacity="0.06" stroke-width="0.8" filter="url(#n3)" transform="rotate(0 399.5 49.0)"/>
<ellipse cx="429.5" cy="139.0" rx="3.5" ry="3.5" fill="#fff" fill-opacity="0.08" stroke="#fff" stroke-opacity="0.09" stroke-width="0.8" filter="url(#n3)" transform="rotate(0 429.5 139.0)"/>
<g filter="url(#sp)">
<ellipse cx="385.0" cy="27.8" rx="3.3" ry="4.0" fill="#fff" opacity="0.90" transform="rotate(10 385.0 27.8)"/>
<ellipse cx="429.5" cy="26.5" rx="3.3" ry="2.4" fill="#fff" opacity="0.75" transform="rotate(0 429.5 26.5)"/>
<ellipse cx="444.5" cy="28.5" rx="5.2" ry="3.6" fill="#fff" opacity="0.90" transform="rotate(-20 444.5 28.5)"/>
<ellipse cx="477.0" cy="29.0" rx="3.8" ry="4.3" fill="#fff" opacity="0.82" transform="rotate(10 477.0 29.0)"/>
<ellipse cx="493.2" cy="40.2" rx="3.8" ry="3.3" fill="#fff" opacity="0.82" transform="rotate(0 493.2 40.2)"/>
<ellipse cx="368.2" cy="40.2" rx="1.9" ry="2.8" fill="#fff" opacity="0.60" transform="rotate(0 368.2 40.2)"/>
<ellipse cx="420.0" cy="41.5" rx="2.8" ry="3.3" fill="#fff" opacity="0.90" transform="rotate(0 420.0 41.5)"/>
<ellipse cx="415.8" cy="46.5" rx="3.3" ry="4.5" fill="#fff" opacity="0.90" transform="rotate(10 415.8 46.5)"/>
<ellipse cx="432.0" cy="41.0" rx="3.1" ry="4.0" fill="#fff" opacity="0.54" transform="rotate(0 432.0 41.0)"/>
<ellipse cx="438.2" cy="47.8" rx="2.6" ry="4.3" fill="#fff" opacity="0.82" transform="rotate(15 438.2 47.8)"/>
<ellipse cx="444.5" cy="42.8" rx="3.1" ry="3.6" fill="#fff" opacity="0.54" transform="rotate(0 444.5 42.8)"/>
<ellipse cx="450.8" cy="41.0" rx="3.3" ry="3.8" fill="#fff" opacity="0.54" transform="rotate(0 450.8 41.0)"/>
<ellipse cx="460.8" cy="35.2" rx="3.6" ry="3.6" fill="#fff" opacity="0.48" transform="rotate(0 460.8 35.2)"/>
<ellipse cx="467.0" cy="34.5" rx="3.1" ry="3.6" fill="#fff" opacity="0.54" transform="rotate(0 467.0 34.5)"/>
<ellipse cx="483.2" cy="44.0" rx="3.6" ry="3.3" fill="#fff" opacity="0.54" transform="rotate(0 483.2 44.0)"/>
<ellipse cx="492.0" cy="44.5" rx="2.8" ry="2.8" fill="#fff" opacity="0.60" transform="rotate(0 492.0 44.5)"/>
<ellipse cx="474.5" cy="51.5" rx="3.6" ry="4.0" fill="#fff" opacity="0.82" transform="rotate(0 474.5 51.5)"/>
<ellipse cx="486.5" cy="55.2" rx="4.3" ry="3.6" fill="#fff" opacity="0.90" transform="rotate(0 486.5 55.2)"/>
<ellipse cx="449.5" cy="56.5" rx="3.6" ry="3.6" fill="#fff" opacity="0.54" transform="rotate(0 449.5 56.5)"/>
<ellipse cx="418.2" cy="56.5" rx="3.8" ry="3.8" fill="#fff" opacity="0.82" transform="rotate(0 418.2 56.5)"/>
<ellipse cx="372.0" cy="59.0" rx="3.3" ry="3.3" fill="#fff" opacity="0.82" transform="rotate(0 372.0 59.0)"/>
<ellipse cx="374.5" cy="65.2" rx="3.6" ry="2.6" fill="#fff" opacity="0.48" transform="rotate(-20 374.5 65.2)"/>
<ellipse cx="412.0" cy="65.2" rx="3.1" ry="3.8" fill="#fff" opacity="0.90" transform="rotate(10 412.0 65.2)"/>
<ellipse cx="464.5" cy="65.2" rx="3.8" ry="4.0" fill="#fff" opacity="0.82" transform="rotate(0 464.5 65.2)"/>
<ellipse cx="485.0" cy="66.5" rx="3.8" ry="4.0" fill="#fff" opacity="0.82" transform="rotate(0 485.0 66.5)"/>
<ellipse cx="429.0" cy="72.0" rx="4.3" ry="4.3" fill="#fff" opacity="0.82" transform="rotate(0 429.0 72.0)"/>
<ellipse cx="443.2" cy="71.0" rx="3.8" ry="4.3" fill="#fff" opacity="0.82" transform="rotate(0 443.2 71.0)"/>
<ellipse cx="460.8" cy="74.0" rx="4.3" ry="5.2" fill="#fff" opacity="0.90" transform="rotate(0 460.8 74.0)"/>
<ellipse cx="470.8" cy="75.2" rx="5.2" ry="5.2" fill="#fff" opacity="0.82" transform="rotate(0 470.8 75.2)"/>
<ellipse cx="380.8" cy="76.5" rx="3.1" ry="4.0" fill="#fff" opacity="0.90" transform="rotate(15 380.8 76.5)"/>
<ellipse cx="389.5" cy="75.2" rx="4.3" ry="4.5" fill="#fff" opacity="0.68" transform="rotate(0 389.5 75.2)"/>
<ellipse cx="481.5" cy="81.5" rx="3.6" ry="4.0" fill="#fff" opacity="0.54" transform="rotate(0 481.5 81.5)"/>
<ellipse cx="458.2" cy="84.0" rx="4.0" ry="3.8" fill="#fff" opacity="0.82" transform="rotate(0 458.2 84.0)"/>
<ellipse cx="377.0" cy="86.5" rx="2.8" ry="3.6" fill="#fff" opacity="0.90" transform="rotate(0 377.0 86.5)"/>
<ellipse cx="385.8" cy="89.5" rx="3.6" ry="4.0" fill="#fff" opacity="0.82" transform="rotate(0 385.8 89.5)"/>
<ellipse cx="393.2" cy="91.5" rx="3.3" ry="3.3" fill="#fff" opacity="0.54" transform="rotate(0 393.2 91.5)"/>
<ellipse cx="409.5" cy="92.8" rx="4.8" ry="3.3" fill="#fff" opacity="0.90" transform="rotate(-15 409.5 92.8)"/>
<ellipse cx="419.5" cy="85.2" rx="2.8" ry="2.8" fill="#fff" opacity="0.60" transform="rotate(0 419.5 85.2)"/>
<ellipse cx="425.8" cy="86.0" rx="3.6" ry="3.3" fill="#fff" opacity="0.48" transform="rotate(0 425.8 86.0)"/>
<ellipse cx="447.0" cy="90.2" rx="4.0" ry="3.1" fill="#fff" opacity="0.82" transform="rotate(0 447.0 90.2)"/>
<ellipse cx="450.8" cy="86.5" rx="3.3" ry="2.8" fill="#fff" opacity="0.48" transform="rotate(0 450.8 86.5)"/>
<ellipse cx="370.8" cy="99.0" rx="3.6" ry="3.1" fill="#fff" opacity="0.90" transform="rotate(0 370.8 99.0)"/>
<ellipse cx="387.0" cy="97.8" rx="3.1" ry="3.3" fill="#fff" opacity="0.54" transform="rotate(0 387.0 97.8)"/>
<ellipse cx="393.2" cy="99.0" rx="2.8" ry="3.6" fill="#fff" opacity="0.48" transform="rotate(0 393.2 99.0)"/>
<ellipse cx="438.2" cy="96.5" rx="4.8" ry="3.6" fill="#fff" opacity="0.90" transform="rotate(-10 438.2 96.5)"/>
<ellipse cx="443.2" cy="102.8" rx="4.3" ry="4.0" fill="#fff" opacity="0.90" transform="rotate(0 443.2 102.8)"/>
<ellipse cx="453.2" cy="100.2" rx="3.6" ry="3.6" fill="#fff" opacity="0.48" transform="rotate(0 453.2 100.2)"/>
<ellipse cx="469.5" cy="97.0" rx="3.3" ry="4.3" fill="#fff" opacity="0.90" transform="rotate(0 469.5 97.0)"/>
<ellipse cx="475.2" cy="102.0" rx="3.3" ry="4.0" fill="#fff" opacity="0.90" transform="rotate(0 475.2 102.0)"/>
<ellipse cx="482.5" cy="98.5" rx="3.6" ry="4.3" fill="#fff" opacity="0.82" transform="rotate(0 482.5 98.5)"/>
<ellipse cx="383.2" cy="106.5" rx="3.3" ry="3.1" fill="#fff" opacity="0.90" transform="rotate(0 383.2 106.5)"/>
<ellipse cx="378.2" cy="112.8" rx="2.6" ry="3.8" fill="#fff" opacity="0.54" transform="rotate(0 378.2 112.8)"/>
<ellipse cx="388.2" cy="111.0" rx="2.8" ry="3.8" fill="#fff" opacity="0.82" transform="rotate(10 388.2 111.0)"/>
<ellipse cx="394.5" cy="116.5" rx="3.6" ry="2.8" fill="#fff" opacity="0.60" transform="rotate(0 394.5 116.5)"/>
<ellipse cx="448.2" cy="112.8" rx="4.8" ry="3.1" fill="#fff" opacity="0.90" transform="rotate(-15 448.2 112.8)"/>
<ellipse cx="447.0" cy="119.0" rx="4.3" ry="3.6" fill="#fff" opacity="0.90" transform="rotate(0 447.0 119.0)"/>
<ellipse cx="390.8" cy="125.2" rx="3.1" ry="3.8" fill="#fff" opacity="0.90" transform="rotate(0 390.8 125.2)"/>
<ellipse cx="399.5" cy="125.2" rx="2.8" ry="3.6" fill="#fff" opacity="0.90" transform="rotate(0 399.5 125.2)"/>
<ellipse cx="405.8" cy="125.2" rx="2.8" ry="3.3" fill="#fff" opacity="0.54" transform="rotate(0 405.8 125.2)"/>
<ellipse cx="403.2" cy="132.0" rx="3.6" ry="2.8" fill="#fff" opacity="0.90" transform="rotate(0 403.2 132.0)"/>
<ellipse cx="395.8" cy="131.5" rx="2.8" ry="2.8" fill="#fff" opacity="0.54" transform="rotate(0 395.8 131.5)"/>
<ellipse cx="457.0" cy="129.0" rx="2.6" ry="4.8" fill="#fff" opacity="0.90" transform="rotate(20 457.0 129.0)"/>
<ellipse cx="444.5" cy="132.8" rx="4.3" ry="4.0" fill="#fff" opacity="0.90" transform="rotate(0 444.5 132.8)"/>
<ellipse cx="468.2" cy="134.0" rx="3.3" ry="3.8" fill="#fff" opacity="0.82" transform="rotate(0 468.2 134.0)"/>
<ellipse cx="473.2" cy="132.0" rx="2.8" ry="3.3" fill="#fff" opacity="0.75" transform="rotate(0 473.2 132.0)"/>
<ellipse cx="489.5" cy="132.8" rx="3.3" ry="3.3" fill="#fff" opacity="0.54" transform="rotate(0 489.5 132.8)"/>
<ellipse cx="495.0" cy="134.0" rx="2.4" ry="3.3" fill="#fff" opacity="0.82" transform="rotate(0 495.0 134.0)"/>
<ellipse cx="395.8" cy="138.5" rx="3.1" ry="2.6" fill="#fff" opacity="0.54" transform="rotate(0 395.8 138.5)"/>
<ellipse cx="374.5" cy="142.8" rx="3.6" ry="3.6" fill="#fff" opacity="0.82" transform="rotate(0 374.5 142.8)"/>
<ellipse cx="384.5" cy="146.5" rx="4.8" ry="4.0" fill="#fff" opacity="0.82" transform="rotate(0 384.5 146.5)"/>
<ellipse cx="397.0" cy="149.0" rx="2.8" ry="3.8" fill="#fff" opacity="0.54" transform="rotate(0 397.0 149.0)"/>
<ellipse cx="407.0" cy="147.8" rx="3.8" ry="4.0" fill="#fff" opacity="0.82" transform="rotate(0 407.0 147.8)"/>
<ellipse cx="414.5" cy="149.0" rx="2.6" ry="3.6" fill="#fff" opacity="0.48" transform="rotate(0 414.5 149.0)"/>
<ellipse cx="450.8" cy="144.0" rx="3.6" ry="3.3" fill="#fff" opacity="0.48" transform="rotate(0 450.8 144.0)"/>
<ellipse cx="442.0" cy="150.2" rx="3.6" ry="3.6" fill="#fff" opacity="0.82" transform="rotate(0 442.0 150.2)"/>
<ellipse cx="474.5" cy="141.5" rx="4.0" ry="3.3" fill="#fff" opacity="0.90" transform="rotate(0 474.5 141.5)"/>
<ellipse cx="473.2" cy="149.0" rx="3.3" ry="3.3" fill="#fff" opacity="0.82" transform="rotate(0 473.2 149.0)"/>
<ellipse cx="485.8" cy="146.5" rx="4.0" ry="3.6" fill="#fff" opacity="0.82" transform="rotate(0 485.8 146.5)"/>
<ellipse cx="424.5" cy="25.2" rx="2.8" ry="1.9" fill="#fff" opacity="0.60" transform="rotate(0 424.5 25.2)"/>
<ellipse cx="370.8" cy="152.0" rx="3.3" ry="2.4" fill="#fff" opacity="0.60" transform="rotate(0 370.8 152.0)"/>
<ellipse cx="497.0" cy="149.0" rx="2.8" ry="2.8" fill="#fff" opacity="0.60" transform="rotate(0 497.0 149.0)"/>
<ellipse cx="499.0" cy="54.0" rx="2.4" ry="3.3" fill="#fff" opacity="0.60" transform="rotate(0 499.0 54.0)"/>
<ellipse cx="498.2" cy="99.0" rx="2.4" ry="3.3" fill="#fff" opacity="0.48" transform="rotate(0 498.2 99.0)"/>
</g>
<ellipse cx="385.0" cy="27.8" rx="3.0" ry="3.7" fill="#fff" fill-opacity="0.32" stroke="#fff" stroke-opacity="0.60" stroke-width="0.75" filter="url(#n1)" transform="rotate(10 385.0 27.8)"/>
<ellipse cx="429.5" cy="26.5" rx="3.0" ry="2.1" fill="#fff" fill-opacity="0.27" stroke="#fff" stroke-opacity="0.50" stroke-width="0.75" filter="url(#n1)" transform="rotate(0 429.5 26.5)"/>
<ellipse cx="444.5" cy="28.5" rx="4.9" ry="3.3" fill="#fff" fill-opacity="0.32" stroke="#fff" stroke-opacity="0.60" stroke-width="0.75" filter="url(#n1)" transform="rotate(-20 444.5 28.5)"/>
<ellipse cx="477.0" cy="29.0" rx="3.5" ry="4.0" fill="#fff" fill-opacity="0.29" stroke="#fff" stroke-opacity="0.55" stroke-width="0.75" filter="url(#n1)" transform="rotate(10 477.0 29.0)"/>
<ellipse cx="493.2" cy="40.2" rx="3.5" ry="3.0" fill="#fff" fill-opacity="0.29" stroke="#fff" stroke-opacity="0.55" stroke-width="0.75" filter="url(#n1)" transform="rotate(0 493.2 40.2)"/>
<ellipse cx="368.2" cy="40.2" rx="1.6" ry="2.5" fill="#fff" fill-opacity="0.21" stroke="#fff" stroke-opacity="0.40" stroke-width="0.75" filter="url(#n1)" transform="rotate(0 368.2 40.2)"/>
<ellipse cx="420.0" cy="41.5" rx="2.5" ry="3.0" fill="#fff" fill-opacity="0.32" stroke="#fff" stroke-opacity="0.60" stroke-width="0.75" filter="url(#n1)" transform="rotate(0 420.0 41.5)"/>
<ellipse cx="415.8" cy="46.5" rx="3.0" ry="4.2" fill="#fff" fill-opacity="0.32" stroke="#fff" stroke-opacity="0.60" stroke-width="0.75" filter="url(#n1)" transform="rotate(10 415.8 46.5)"/>
<ellipse cx="432.0" cy="41.0" rx="2.8" ry="3.7" fill="#fff" fill-opacity="0.19" stroke="#fff" stroke-opacity="0.36" stroke-width="0.75" filter="url(#n1)" transform="rotate(0 432.0 41.0)"/>
<ellipse cx="438.2" cy="47.8" rx="2.3" ry="4.0" fill="#fff" fill-opacity="0.29" stroke="#fff" stroke-opacity="0.55" stroke-width="0.75" filter="url(#n1)" transform="rotate(15 438.2 47.8)"/>
<ellipse cx="444.5" cy="42.8" rx="2.8" ry="3.3" fill="#fff" fill-opacity="0.19" stroke="#fff" stroke-opacity="0.36" stroke-width="0.75" filter="url(#n1)" transform="rotate(0 444.5 42.8)"/>
<ellipse cx="450.8" cy="41.0" rx="3.0" ry="3.5" fill="#fff" fill-opacity="0.19" stroke="#fff" stroke-opacity="0.36" stroke-width="0.75" filter="url(#n1)" transform="rotate(0 450.8 41.0)"/>
<ellipse cx="460.8" cy="35.2" rx="3.3" ry="3.3" fill="#fff" fill-opacity="0.17" stroke="#fff" stroke-opacity="0.32" stroke-width="0.75" filter="url(#n1)" transform="rotate(0 460.8 35.2)"/>
<ellipse cx="467.0" cy="34.5" rx="2.8" ry="3.3" fill="#fff" fill-opacity="0.19" stroke="#fff" stroke-opacity="0.36" stroke-width="0.75" filter="url(#n1)" transform="rotate(0 467.0 34.5)"/>
<ellipse cx="483.2" cy="44.0" rx="3.3" ry="3.0" fill="#fff" fill-opacity="0.19" stroke="#fff" stroke-opacity="0.36" stroke-width="0.75" filter="url(#n1)" transform="rotate(0 483.2 44.0)"/>
<ellipse cx="492.0" cy="44.5" rx="2.5" ry="2.5" fill="#fff" fill-opacity="0.21" stroke="#fff" stroke-opacity="0.40" stroke-width="0.75" filter="url(#n1)" transform="rotate(0 492.0 44.5)"/>
<ellipse cx="474.5" cy="51.5" rx="3.3" ry="3.7" fill="#fff" fill-opacity="0.29" stroke="#fff" stroke-opacity="0.55" stroke-width="0.75" filter="url(#n1)" transform="rotate(0 474.5 51.5)"/>
<ellipse cx="486.5" cy="55.2" rx="4.0" ry="3.3" fill="#fff" fill-opacity="0.32" stroke="#fff" stroke-opacity="0.60" stroke-width="0.75" filter="url(#n1)" transform="rotate(0 486.5 55.2)"/>
<ellipse cx="449.5" cy="56.5" rx="3.3" ry="3.3" fill="#fff" fill-opacity="0.19" stroke="#fff" stroke-opacity="0.36" stroke-width="0.75" filter="url(#n1)" transform="rotate(0 449.5 56.5)"/>
<ellipse cx="418.2" cy="56.5" rx="3.5" ry="3.5" fill="#fff" fill-opacity="0.29" stroke="#fff" stroke-opacity="0.55" stroke-width="0.75" filter="url(#n1)" transform="rotate(0 418.2 56.5)"/>
<ellipse cx="372.0" cy="59.0" rx="3.0" ry="3.0" fill="#fff" fill-opacity="0.29" stroke="#fff" stroke-opacity="0.55" stroke-width="0.75" filter="url(#n1)" transform="rotate(0 372.0 59.0)"/>
<ellipse cx="374.5" cy="65.2" rx="3.3" ry="2.3" fill="#fff" fill-opacity="0.17" stroke="#fff" stroke-opacity="0.32" stroke-width="0.75" filter="url(#n1)" transform="rotate(-20 374.5 65.2)"/>
<ellipse cx="412.0" cy="65.2" rx="2.8" ry="3.5" fill="#fff" fill-opacity="0.32" stroke="#fff" stroke-opacity="0.60" stroke-width="0.75" filter="url(#n1)" transform="rotate(10 412.0 65.2)"/>
<ellipse cx="464.5" cy="65.2" rx="3.5" ry="3.7" fill="#fff" fill-opacity="0.29" stroke="#fff" stroke-opacity="0.55" stroke-width="0.75" filter="url(#n1)" transform="rotate(0 464.5 65.2)"/>
<ellipse cx="485.0" cy="66.5" rx="3.5" ry="3.7" fill="#fff" fill-opacity="0.29" stroke="#fff" stroke-opacity="0.55" stroke-width="0.75" filter="url(#n1)" transform="rotate(0 485.0 66.5)"/>
<ellipse cx="429.0" cy="72.0" rx="4.0" ry="4.0" fill="#fff" fill-opacity="0.29" stroke="#fff" stroke-opacity="0.55" stroke-width="0.75" filter="url(#n1)" transform="rotate(0 429.0 72.0)"/>
<ellipse cx="443.2" cy="71.0" rx="3.5" ry="4.0" fill="#fff" fill-opacity="0.29" stroke="#fff" stroke-opacity="0.55" stroke-width="0.75" filter="url(#n1)" transform="rotate(0 443.2 71.0)"/>
<ellipse cx="460.8" cy="74.0" rx="4.0" ry="4.9" fill="#fff" fill-opacity="0.32" stroke="#fff" stroke-opacity="0.60" stroke-width="0.75" filter="url(#n1)" transform="rotate(0 460.8 74.0)"/>
<ellipse cx="470.8" cy="75.2" rx="4.9" ry="4.9" fill="#fff" fill-opacity="0.29" stroke="#fff" stroke-opacity="0.55" stroke-width="0.75" filter="url(#n1)" transform="rotate(0 470.8 75.2)"/>
<ellipse cx="380.8" cy="76.5" rx="2.8" ry="3.7" fill="#fff" fill-opacity="0.32" stroke="#fff" stroke-opacity="0.60" stroke-width="0.75" filter="url(#n1)" transform="rotate(15 380.8 76.5)"/>
<ellipse cx="389.5" cy="75.2" rx="4.0" ry="4.2" fill="#fff" fill-opacity="0.24" stroke="#fff" stroke-opacity="0.45" stroke-width="0.75" filter="url(#n1)" transform="rotate(0 389.5 75.2)"/>
<ellipse cx="481.5" cy="81.5" rx="3.3" ry="3.7" fill="#fff" fill-opacity="0.19" stroke="#fff" stroke-opacity="0.36" stroke-width="0.75" filter="url(#n1)" transform="rotate(0 481.5 81.5)"/>
<ellipse cx="458.2" cy="84.0" rx="3.7" ry="3.5" fill="#fff" fill-opacity="0.29" stroke="#fff" stroke-opacity="0.55" stroke-width="0.75" filter="url(#n1)" transform="rotate(0 458.2 84.0)"/>
<ellipse cx="377.0" cy="86.5" rx="2.5" ry="3.3" fill="#fff" fill-opacity="0.32" stroke="#fff" stroke-opacity="0.60" stroke-width="0.75" filter="url(#n1)" transform="rotate(0 377.0 86.5)"/>
<ellipse cx="385.8" cy="89.5" rx="3.3" ry="3.7" fill="#fff" fill-opacity="0.29" stroke="#fff" stroke-opacity="0.55" stroke-width="0.75" filter="url(#n1)" transform="rotate(0 385.8 89.5)"/>
<ellipse cx="393.2" cy="91.5" rx="3.0" ry="3.0" fill="#fff" fill-opacity="0.19" stroke="#fff" stroke-opacity="0.36" stroke-width="0.75" filter="url(#n1)" transform="rotate(0 393.2 91.5)"/>
<ellipse cx="409.5" cy="92.8" rx="4.5" ry="3.0" fill="#fff" fill-opacity="0.32" stroke="#fff" stroke-opacity="0.60" stroke-width="0.75" filter="url(#n1)" transform="rotate(-15 409.5 92.8)"/>
<ellipse cx="419.5" cy="85.2" rx="2.5" ry="2.5" fill="#fff" fill-opacity="0.21" stroke="#fff" stroke-opacity="0.40" stroke-width="0.75" filter="url(#n1)" transform="rotate(0 419.5 85.2)"/>
<ellipse cx="425.8" cy="86.0" rx="3.3" ry="3.0" fill="#fff" fill-opacity="0.17" stroke="#fff" stroke-opacity="0.32" stroke-width="0.75" filter="url(#n1)" transform="rotate(0 425.8 86.0)"/>
<ellipse cx="447.0" cy="90.2" rx="3.7" ry="2.8" fill="#fff" fill-opacity="0.29" stroke="#fff" stroke-opacity="0.55" stroke-width="0.75" filter="url(#n1)" transform="rotate(0 447.0 90.2)"/>
<ellipse cx="450.8" cy="86.5" rx="3.0" ry="2.5" fill="#fff" fill-opacity="0.17" stroke="#fff" stroke-opacity="0.32" stroke-width="0.75" filter="url(#n1)" transform="rotate(0 450.8 86.5)"/>
<ellipse cx="370.8" cy="99.0" rx="3.3" ry="2.8" fill="#fff" fill-opacity="0.32" stroke="#fff" stroke-opacity="0.60" stroke-width="0.75" filter="url(#n1)" transform="rotate(0 370.8 99.0)"/>
<ellipse cx="387.0" cy="97.8" rx="2.8" ry="3.0" fill="#fff" fill-opacity="0.19" stroke="#fff" stroke-opacity="0.36" stroke-width="0.75" filter="url(#n1)" transform="rotate(0 387.0 97.8)"/>
<ellipse cx="393.2" cy="99.0" rx="2.5" ry="3.3" fill="#fff" fill-opacity="0.17" stroke="#fff" stroke-opacity="0.32" stroke-width="0.75" filter="url(#n1)" transform="rotate(0 393.2 99.0)"/>
<ellipse cx="438.2" cy="96.5" rx="4.5" ry="3.3" fill="#fff" fill-opacity="0.32" stroke="#fff" stroke-opacity="0.60" stroke-width="0.75" filter="url(#n1)" transform="rotate(-10 438.2 96.5)"/>
<ellipse cx="443.2" cy="102.8" rx="4.0" ry="3.7" fill="#fff" fill-opacity="0.32" stroke="#fff" stroke-opacity="0.60" stroke-width="0.75" filter="url(#n1)" transform="rotate(0 443.2 102.8)"/>
<ellipse cx="453.2" cy="100.2" rx="3.3" ry="3.3" fill="#fff" fill-opacity="0.17" stroke="#fff" stroke-opacity="0.32" stroke-width="0.75" filter="url(#n1)" transform="rotate(0 453.2 100.2)"/>
<ellipse cx="469.5" cy="97.0" rx="3.0" ry="4.0" fill="#fff" fill-opacity="0.32" stroke="#fff" stroke-opacity="0.60" stroke-width="0.75" filter="url(#n1)" transform="rotate(0 469.5 97.0)"/>
<ellipse cx="475.2" cy="102.0" rx="3.0" ry="3.7" fill="#fff" fill-opacity="0.32" stroke="#fff" stroke-opacity="0.60" stroke-width="0.75" filter="url(#n1)" transform="rotate(0 475.2 102.0)"/>
<ellipse cx="482.5" cy="98.5" rx="3.3" ry="4.0" fill="#fff" fill-opacity="0.29" stroke="#fff" stroke-opacity="0.55" stroke-width="0.75" filter="url(#n1)" transform="rotate(0 482.5 98.5)"/>
<ellipse cx="383.2" cy="106.5" rx="3.0" ry="2.8" fill="#fff" fill-opacity="0.32" stroke="#fff" stroke-opacity="0.60" stroke-width="0.75" filter="url(#n1)" transform="rotate(0 383.2 106.5)"/>
<ellipse cx="378.2" cy="112.8" rx="2.3" ry="3.5" fill="#fff" fill-opacity="0.19" stroke="#fff" stroke-opacity="0.36" stroke-width="0.75" filter="url(#n1)" transform="rotate(0 378.2 112.8)"/>
<ellipse cx="388.2" cy="111.0" rx="2.5" ry="3.5" fill="#fff" fill-opacity="0.29" stroke="#fff" stroke-opacity="0.55" stroke-width="0.75" filter="url(#n1)" transform="rotate(10 388.2 111.0)"/>
<ellipse cx="394.5" cy="116.5" rx="3.3" ry="2.5" fill="#fff" fill-opacity="0.21" stroke="#fff" stroke-opacity="0.40" stroke-width="0.75" filter="url(#n1)" transform="rotate(0 394.5 116.5)"/>
<ellipse cx="448.2" cy="112.8" rx="4.5" ry="2.8" fill="#fff" fill-opacity="0.32" stroke="#fff" stroke-opacity="0.60" stroke-width="0.75" filter="url(#n1)" transform="rotate(-15 448.2 112.8)"/>
<ellipse cx="447.0" cy="119.0" rx="4.0" ry="3.3" fill="#fff" fill-opacity="0.32" stroke="#fff" stroke-opacity="0.60" stroke-width="0.75" filter="url(#n1)" transform="rotate(0 447.0 119.0)"/>
<ellipse cx="390.8" cy="125.2" rx="2.8" ry="3.5" fill="#fff" fill-opacity="0.32" stroke="#fff" stroke-opacity="0.60" stroke-width="0.75" filter="url(#n1)" transform="rotate(0 390.8 125.2)"/>
<ellipse cx="399.5" cy="125.2" rx="2.5" ry="3.3" fill="#fff" fill-opacity="0.32" stroke="#fff" stroke-opacity="0.60" stroke-width="0.75" filter="url(#n1)" transform="rotate(0 399.5 125.2)"/>
<ellipse cx="405.8" cy="125.2" rx="2.5" ry="3.0" fill="#fff" fill-opacity="0.19" stroke="#fff" stroke-opacity="0.36" stroke-width="0.75" filter="url(#n1)" transform="rotate(0 405.8 125.2)"/>
<ellipse cx="403.2" cy="132.0" rx="3.3" ry="2.5" fill="#fff" fill-opacity="0.32" stroke="#fff" stroke-opacity="0.60" stroke-width="0.75" filter="url(#n1)" transform="rotate(0 403.2 132.0)"/>
<ellipse cx="395.8" cy="131.5" rx="2.5" ry="2.5" fill="#fff" fill-opacity="0.19" stroke="#fff" stroke-opacity="0.36" stroke-width="0.75" filter="url(#n1)" transform="rotate(0 395.8 131.5)"/>
<ellipse cx="457.0" cy="129.0" rx="2.3" ry="4.5" fill="#fff" fill-opacity="0.32" stroke="#fff" stroke-opacity="0.60" stroke-width="0.75" filter="url(#n1)" transform="rotate(20 457.0 129.0)"/>
<ellipse cx="444.5" cy="132.8" rx="4.0" ry="3.7" fill="#fff" fill-opacity="0.32" stroke="#fff" stroke-opacity="0.60" stroke-width="0.75" filter="url(#n1)" transform="rotate(0 444.5 132.8)"/>
<ellipse cx="468.2" cy="134.0" rx="3.0" ry="3.5" fill="#fff" fill-opacity="0.29" stroke="#fff" stroke-opacity="0.55" stroke-width="0.75" filter="url(#n1)" transform="rotate(0 468.2 134.0)"/>
<ellipse cx="473.2" cy="132.0" rx="2.5" ry="3.0" fill="#fff" fill-opacity="0.27" stroke="#fff" stroke-opacity="0.50" stroke-width="0.75" filter="url(#n1)" transform="rotate(0 473.2 132.0)"/>
<ellipse cx="489.5" cy="132.8" rx="3.0" ry="3.0" fill="#fff" fill-opacity="0.19" stroke="#fff" stroke-opacity="0.36" stroke-width="0.75" filter="url(#n1)" transform="rotate(0 489.5 132.8)"/>
<ellipse cx="495.0" cy="134.0" rx="2.1" ry="3.0" fill="#fff" fill-opacity="0.29" stroke="#fff" stroke-opacity="0.55" stroke-width="0.75" filter="url(#n1)" transform="rotate(0 495.0 134.0)"/>
<ellipse cx="395.8" cy="138.5" rx="2.8" ry="2.3" fill="#fff" fill-opacity="0.19" stroke="#fff" stroke-opacity="0.36" stroke-width="0.75" filter="url(#n1)" transform="rotate(0 395.8 138.5)"/>
<ellipse cx="374.5" cy="142.8" rx="3.3" ry="3.3" fill="#fff" fill-opacity="0.29" stroke="#fff" stroke-opacity="0.55" stroke-width="0.75" filter="url(#n1)" transform="rotate(0 374.5 142.8)"/>
<ellipse cx="384.5" cy="146.5" rx="4.5" ry="3.7" fill="#fff" fill-opacity="0.29" stroke="#fff" stroke-opacity="0.55" stroke-width="0.75" filter="url(#n1)" transform="rotate(0 384.5 146.5)"/>
<ellipse cx="397.0" cy="149.0" rx="2.5" ry="3.5" fill="#fff" fill-opacity="0.19" stroke="#fff" stroke-opacity="0.36" stroke-width="0.75" filter="url(#n1)" transform="rotate(0 397.0 149.0)"/>
<ellipse cx="407.0" cy="147.8" rx="3.5" ry="3.7" fill="#fff" fill-opacity="0.29" stroke="#fff" stroke-opacity="0.55" stroke-width="0.75" filter="url(#n1)" transform="rotate(0 407.0 147.8)"/>
<ellipse cx="414.5" cy="149.0" rx="2.3" ry="3.3" fill="#fff" fill-opacity="0.17" stroke="#fff" stroke-opacity="0.32" stroke-width="0.75" filter="url(#n1)" transform="rotate(0 414.5 149.0)"/>
<ellipse cx="450.8" cy="144.0" rx="3.3" ry="3.0" fill="#fff" fill-opacity="0.17" stroke="#fff" stroke-opacity="0.32" stroke-width="0.75" filter="url(#n1)" transform="rotate(0 450.8 144.0)"/>
<ellipse cx="442.0" cy="150.2" rx="3.3" ry="3.3" fill="#fff" fill-opacity="0.29" stroke="#fff" stroke-opacity="0.55" stroke-width="0.75" filter="url(#n1)" transform="rotate(0 442.0 150.2)"/>
<ellipse cx="474.5" cy="141.5" rx="3.7" ry="3.0" fill="#fff" fill-opacity="0.32" stroke="#fff" stroke-opacity="0.60" stroke-width="0.75" filter="url(#n1)" transform="rotate(0 474.5 141.5)"/>
<ellipse cx="473.2" cy="149.0" rx="3.0" ry="3.0" fill="#fff" fill-opacity="0.29" stroke="#fff" stroke-opacity="0.55" stroke-width="0.75" filter="url(#n1)" transform="rotate(0 473.2 149.0)"/>
<ellipse cx="485.8" cy="146.5" rx="3.7" ry="3.3" fill="#fff" fill-opacity="0.29" stroke="#fff" stroke-opacity="0.55" stroke-width="0.75" filter="url(#n1)" transform="rotate(0 485.8 146.5)"/>
<ellipse cx="424.5" cy="25.2" rx="2.5" ry="1.6" fill="#fff" fill-opacity="0.21" stroke="#fff" stroke-opacity="0.40" stroke-width="0.75" filter="url(#n1)" transform="rotate(0 424.5 25.2)"/>
<ellipse cx="370.8" cy="152.0" rx="3.0" ry="2.1" fill="#fff" fill-opacity="0.21" stroke="#fff" stroke-opacity="0.40" stroke-width="0.75" filter="url(#n1)" transform="rotate(0 370.8 152.0)"/>
<ellipse cx="497.0" cy="149.0" rx="2.5" ry="2.5" fill="#fff" fill-opacity="0.21" stroke="#fff" stroke-opacity="0.40" stroke-width="0.75" filter="url(#n1)" transform="rotate(0 497.0 149.0)"/>
<ellipse cx="499.0" cy="54.0" rx="2.1" ry="3.0" fill="#fff" fill-opacity="0.21" stroke="#fff" stroke-opacity="0.40" stroke-width="0.75" filter="url(#n1)" transform="rotate(0 499.0 54.0)"/>
<ellipse cx="498.2" cy="99.0" rx="2.1" ry="3.0" fill="#fff" fill-opacity="0.17" stroke="#fff" stroke-opacity="0.32" stroke-width="0.75" filter="url(#n1)" transform="rotate(0 498.2 99.0)"/>
</g>
<ellipse cx="475.6" cy="117.6" rx="4.6" ry="5.8" fill="#fff" fill-opacity="0.06" stroke="#fff" stroke-opacity="0.55" stroke-width="0.8" filter="url(#n1)" transform="rotate(15 475.6 117.6)"/>
<ellipse cx="429.5" cy="119" rx="3.4" ry="3.4" fill="#fff" fill-opacity="0.05" stroke="#fff" stroke-opacity="0.4" stroke-width="0.9" filter="url(#n1)"/>
<text x="296.30" y="175.50" font-size="12" text-anchor="middle" font-weight="normal" textLength="50.4" lengthAdjust="spacingAndGlyphs">Untreated</text>
<text x="295.60" y="191.20" font-size="12" text-anchor="middle" font-weight="normal" textLength="73.6" lengthAdjust="spacingAndGlyphs">(27.7 ± 3.0%)</text>
<text x="442.60" y="175.50" font-size="12" text-anchor="middle" font-weight="normal" textLength="33.6" lengthAdjust="spacingAndGlyphs">GDNF</text>
<text x="442.80" y="191.20" font-size="12" text-anchor="middle" font-weight="normal" textLength="73.4" lengthAdjust="spacingAndGlyphs">(39.4 ± 2.0%)</text>
<g stroke="#1a1a1a" stroke-width="1" fill="none">
<path d="M85.5 220.5V379.25H406.3"/>
<path d="M83.2 379.25H85.5"/>
<path d="M83.2 356.61H85.5"/>
<path d="M83.2 333.96H85.5"/>
<path d="M83.2 311.31H85.5"/>
<path d="M83.2 288.67H85.5"/>
<path d="M83.2 266.02H85.5"/>
<path d="M83.2 243.38H85.5"/>
<path d="M83.2 220.74H85.5"/>
<path d="M149.65 379.25v2.2"/>
<path d="M213.80 379.25v2.2"/>
<path d="M277.95 379.25v2.2"/>
<path d="M342.10 379.25v2.2"/>
<path d="M406.25 379.25v2.2"/>
</g>
<text x="81.30" y="382.65" font-size="9.5" text-anchor="end" font-weight="normal" textLength="4.75" lengthAdjust="spacingAndGlyphs">0</text>
<text x="81.30" y="360.00" font-size="9.5" text-anchor="end" font-weight="normal" textLength="4.75" lengthAdjust="spacingAndGlyphs">5</text>
<text x="81.30" y="337.36" font-size="9.5" text-anchor="end" font-weight="normal" textLength="9.51" lengthAdjust="spacingAndGlyphs">10</text>
<text x="81.30" y="314.71" font-size="9.5" text-anchor="end" font-weight="normal" textLength="9.51" lengthAdjust="spacingAndGlyphs">15</text>
<text x="81.30" y="292.07" font-size="9.5" text-anchor="end" font-weight="normal" textLength="9.51" lengthAdjust="spacingAndGlyphs">20</text>
<text x="81.30" y="269.42" font-size="9.5" text-anchor="end" font-weight="normal" textLength="9.51" lengthAdjust="spacingAndGlyphs">25</text>
<text x="81.30" y="246.78" font-size="9.5" text-anchor="end" font-weight="normal" textLength="9.51" lengthAdjust="spacingAndGlyphs">30</text>
<text x="81.30" y="224.14" font-size="9.5" text-anchor="end" font-weight="normal" textLength="9.51" lengthAdjust="spacingAndGlyphs">35</text>
<text transform="translate(63.7 300.4) rotate(-90)" font-size="9.7" text-anchor="middle" textLength="95.6" lengthAdjust="spacingAndGlyphs">% BrdUrd-positive cells</text>
<rect x="98.5" y="303.75" width="18.25" height="75.50" fill="#878787" stroke="#0c0c0c" stroke-width="1"/>
<rect x="116.75" y="261.25" width="18.25" height="118.00" fill="#272727" stroke="#0c0c0c" stroke-width="1"/>
<path d="M107.50 293.00V314.30M104.50 293.00h6.0M104.50 314.30h6.0" stroke="#1a1a1a" stroke-width="1" fill="none"/>
<path d="M126.20 244.50V278.20M123.20 244.50h6.0M123.20 278.20h6.0" stroke="#1a1a1a" stroke-width="1" fill="none"/>
<text x="107.50" y="395.20" font-size="9.5" text-anchor="middle" font-weight="normal" >-</text>
<text x="126.20" y="395.00" font-size="9" text-anchor="middle" font-weight="normal" >+</text>
<rect x="163.0" y="310.5" width="18.25" height="68.75" fill="#878787" stroke="#0c0c0c" stroke-width="1"/>
<rect x="181.25" y="272.75" width="18.25" height="106.50" fill="#272727" stroke="#0c0c0c" stroke-width="1"/>
<path d="M172.00 297.80V322.50M169.00 297.80h6.0M169.00 322.50h6.0" stroke="#1a1a1a" stroke-width="1" fill="none"/>
<path d="M190.70 264.50V281.30M187.70 264.50h6.0M187.70 281.30h6.0" stroke="#1a1a1a" stroke-width="1" fill="none"/>
<text x="172.00" y="395.20" font-size="9.5" text-anchor="middle" font-weight="normal" >-</text>
<text x="190.70" y="395.00" font-size="9" text-anchor="middle" font-weight="normal" >+</text>
<rect x="227.5" y="308.0" width="18.25" height="71.25" fill="#878787" stroke="#0c0c0c" stroke-width="1"/>
<rect x="245.75" y="267.5" width="18.25" height="111.75" fill="#272727" stroke="#0c0c0c" stroke-width="1"/>
<path d="M236.50 300.50V315.80M233.50 300.50h6.0M233.50 315.80h6.0" stroke="#1a1a1a" stroke-width="1" fill="none"/>
<path d="M255.20 259.30V275.50M252.20 259.30h6.0M252.20 275.50h6.0" stroke="#1a1a1a" stroke-width="1" fill="none"/>
<text x="236.50" y="395.20" font-size="9.5" text-anchor="middle" font-weight="normal" >-</text>
<text x="255.20" y="395.00" font-size="9" text-anchor="middle" font-weight="normal" >+</text>
<rect x="292.5" y="329.5" width="18.25" height="49.75" fill="#878787" stroke="#0c0c0c" stroke-width="1"/>
<rect x="310.75" y="327.5" width="18.25" height="51.75" fill="#272727" stroke="#0c0c0c" stroke-width="1"/>
<path d="M301.50 316.80V342.00M298.50 316.80h6.0M298.50 342.00h6.0" stroke="#1a1a1a" stroke-width="1" fill="none"/>
<path d="M320.20 312.50V342.00M317.20 312.50h6.0M317.20 342.00h6.0" stroke="#1a1a1a" stroke-width="1" fill="none"/>
<text x="301.50" y="395.20" font-size="9.5" text-anchor="middle" font-weight="normal" >-</text>
<text x="320.20" y="395.00" font-size="9" text-anchor="middle" font-weight="normal" >+</text>
<rect x="357.0" y="312.5" width="18.25" height="66.75" fill="#878787" stroke="#0c0c0c" stroke-width="1"/>
<rect x="375.25" y="301.75" width="18.25" height="77.50" fill="#272727" stroke="#0c0c0c" stroke-width="1"/>
<path d="M366.00 303.50V321.30M363.00 303.50h6.0M363.00 321.30h6.0" stroke="#1a1a1a" stroke-width="1" fill="none"/>
<path d="M384.70 293.00V310.80M381.70 293.00h6.0M381.70 310.80h6.0" stroke="#1a1a1a" stroke-width="1" fill="none"/>
<text x="366.00" y="395.20" font-size="9.5" text-anchor="middle" font-weight="normal" >-</text>
<text x="384.70" y="395.00" font-size="9" text-anchor="middle" font-weight="normal" >+</text>
<text x="125.70" y="237.20" font-size="15.5" text-anchor="middle" font-weight="normal" style="stroke-width:0.55px">*</text>
<text x="190.90" y="253.60" font-size="15.5" text-anchor="middle" font-weight="normal" letter-spacing="0.5" style="stroke-width:0.55px">***</text>
<text x="255.70" y="256.30" font-size="15.5" text-anchor="middle" font-weight="normal" letter-spacing="0.5" style="stroke-width:0.55px">***</text>
<text x="51.60" y="395.10" font-size="9.2" text-anchor="start" font-weight="normal" >GDNF</text>
<text x="118.40" y="407.10" font-size="9.2" text-anchor="middle" font-weight="normal" >Mock</text>
<text x="179.80" y="407.10" font-size="9.2" text-anchor="middle" font-weight="normal" >Control</text>
<text x="181.60" y="418.80" font-size="9.2" text-anchor="middle" font-weight="normal" >siRNA-C1</text>
<text x="246.00" y="407.10" font-size="9.2" text-anchor="middle" font-weight="normal" >Control</text>
<text x="245.70" y="418.80" font-size="9.2" text-anchor="middle" font-weight="normal" >siRNA-C2</text>
<text x="312.10" y="407.10" font-size="9.2" text-anchor="middle" font-weight="normal" >RET</text>
<text x="311.30" y="418.80" font-size="9.2" text-anchor="middle" font-weight="normal" >siRNA-6</text>
<text x="376.60" y="407.10" font-size="9.2" text-anchor="middle" font-weight="normal" >GFR<tspan font-size="9.6">α</tspan>1</text>
<text x="376.60" y="418.80" font-size="9.2" text-anchor="middle" font-weight="normal" >siRNA-2</text>
<g stroke="#3c3c3c" stroke-width="1" fill="none">
<path d="M58.25 454.05V535.6H166.45"/>
<path d="M55.95 535.60H58.25"/>
<path d="M55.95 519.35H58.25"/>
<path d="M55.95 503.10H58.25"/>
<path d="M55.95 486.85H58.25"/>
<path d="M55.95 470.60H58.25"/>
<path d="M55.95 454.35H58.25"/>
<path d="M112.25 535.6v2M166.45 535.6v2"/>
</g>
<text x="54.05" y="539.00" font-size="9.5" text-anchor="end" font-weight="normal" textLength="4.75" lengthAdjust="spacingAndGlyphs">0</text>
<text x="54.05" y="522.75" font-size="9.5" text-anchor="end" font-weight="normal" textLength="9.51" lengthAdjust="spacingAndGlyphs">20</text>
<text x="54.05" y="506.50" font-size="9.5" text-anchor="end" font-weight="normal" textLength="9.51" lengthAdjust="spacingAndGlyphs">40</text>
<text x="54.05" y="490.25" font-size="9.5" text-anchor="end" font-weight="normal" textLength="9.51" lengthAdjust="spacingAndGlyphs">60</text>
<text x="54.05" y="474.00" font-size="9.5" text-anchor="end" font-weight="normal" textLength="9.51" lengthAdjust="spacingAndGlyphs">80</text>
<text x="54.05" y="457.75" font-size="9.5" text-anchor="end" font-weight="normal" textLength="14.26" lengthAdjust="spacingAndGlyphs">100</text>
<text x="113.00" y="441.20" font-size="10.2" text-anchor="middle" font-weight="normal" >Untreated</text>
<rect x="69.95" y="474.18" width="15.3" height="61.43" fill="#707070" stroke="#0c0c0c" stroke-width="1"/>
<rect x="85.25" y="460.61" width="15.3" height="74.99" fill="#272727" stroke="#0c0c0c" stroke-width="1"/>
<path d="M69.45 535.6H101.05" stroke="#0c0c0c" stroke-width="1.4"/>
<path d="M77.60 471.90V476.45M75.00 471.90h5.2M75.00 476.45h5.2" stroke="#1a1a1a" stroke-width="1" fill="none"/>
<path d="M92.90 457.44V463.78M90.30 457.44h5.2M90.30 463.78h5.2" stroke="#1a1a1a" stroke-width="1" fill="none"/>
<text x="77.80" y="545.70" font-size="9.5" text-anchor="middle" font-weight="normal" >-</text>
<text x="92.30" y="545.60" font-size="9" text-anchor="middle" font-weight="normal" >+</text>
<text x="84.35" y="556.90" font-size="9.2" text-anchor="middle" font-weight="normal" >3</text>
<rect x="123.95" y="492.94" width="15.3" height="42.66" fill="#707070" stroke="#0c0c0c" stroke-width="1"/>
<rect x="139.25" y="469.87" width="15.3" height="65.73" fill="#272727" stroke="#0c0c0c" stroke-width="1"/>
<path d="M123.45 535.6H155.05" stroke="#0c0c0c" stroke-width="1.4"/>
<path d="M131.60 491.24V494.65M129.00 491.24h5.2M129.00 494.65h5.2" stroke="#1a1a1a" stroke-width="1" fill="none"/>
<path d="M146.90 463.13V476.61M144.30 463.13h5.2M144.30 476.61h5.2" stroke="#1a1a1a" stroke-width="1" fill="none"/>
<text x="131.80" y="545.70" font-size="9.5" text-anchor="middle" font-weight="normal" >-</text>
<text x="146.30" y="545.60" font-size="9" text-anchor="middle" font-weight="normal" >+</text>
<text x="139.55" y="556.90" font-size="9.2" text-anchor="middle" font-weight="normal" >8</text>
<text x="93.40" y="457.60" font-size="15" text-anchor="middle" font-weight="normal" style="stroke-width:0.55px">*</text>
<text x="146.90" y="463.80" font-size="15" text-anchor="middle" font-weight="normal" style="stroke-width:0.55px">*</text>
<g stroke="#3c3c3c" stroke-width="1" fill="none">
<path d="M210.5 454.20V535.75H318.7"/>
<path d="M208.2 535.75H210.5"/>
<path d="M208.2 519.50H210.5"/>
<path d="M208.2 503.25H210.5"/>
<path d="M208.2 487.00H210.5"/>
<path d="M208.2 470.75H210.5"/>
<path d="M208.2 454.50H210.5"/>
<path d="M264.5 535.75v2M318.7 535.75v2"/>
</g>
<text x="206.30" y="539.15" font-size="9.5" text-anchor="end" font-weight="normal" textLength="4.75" lengthAdjust="spacingAndGlyphs">0</text>
<text x="206.30" y="522.90" font-size="9.5" text-anchor="end" font-weight="normal" textLength="9.51" lengthAdjust="spacingAndGlyphs">20</text>
<text x="206.30" y="506.65" font-size="9.5" text-anchor="end" font-weight="normal" textLength="9.51" lengthAdjust="spacingAndGlyphs">40</text>
<text x="206.30" y="490.40" font-size="9.5" text-anchor="end" font-weight="normal" textLength="9.51" lengthAdjust="spacingAndGlyphs">60</text>
<text x="206.30" y="474.15" font-size="9.5" text-anchor="end" font-weight="normal" textLength="9.51" lengthAdjust="spacingAndGlyphs">80</text>
<text x="206.30" y="457.90" font-size="9.5" text-anchor="end" font-weight="normal" textLength="14.26" lengthAdjust="spacingAndGlyphs">100</text>
<text x="265.40" y="441.20" font-size="10.2" text-anchor="middle" font-weight="normal" >Mock</text>
<rect x="222.20" y="479.28" width="15.3" height="56.47" fill="#707070" stroke="#0c0c0c" stroke-width="1"/>
<rect x="237.50" y="467.50" width="15.3" height="68.25" fill="#272727" stroke="#0c0c0c" stroke-width="1"/>
<path d="M221.70 535.75H253.30" stroke="#0c0c0c" stroke-width="1.4"/>
<path d="M229.85 478.55V480.01M227.25 478.55h5.2M227.25 480.01h5.2" stroke="#1a1a1a" stroke-width="1" fill="none"/>
<path d="M245.15 465.63V469.37M242.55 465.63h5.2M242.55 469.37h5.2" stroke="#1a1a1a" stroke-width="1" fill="none"/>
<text x="230.05" y="545.85" font-size="9.5" text-anchor="middle" font-weight="normal" >-</text>
<text x="244.55" y="545.75" font-size="9" text-anchor="middle" font-weight="normal" >+</text>
<text x="236.60" y="557.05" font-size="9.2" text-anchor="middle" font-weight="normal" >3</text>
<rect x="276.20" y="492.52" width="15.3" height="43.23" fill="#707070" stroke="#0c0c0c" stroke-width="1"/>
<rect x="291.50" y="474.49" width="15.3" height="61.26" fill="#272727" stroke="#0c0c0c" stroke-width="1"/>
<path d="M275.70 535.75H307.30" stroke="#0c0c0c" stroke-width="1.4"/>
<path d="M283.85 488.79V496.26M281.25 488.79h5.2M281.25 496.26h5.2" stroke="#1a1a1a" stroke-width="1" fill="none"/>
<path d="M299.15 467.66V481.31M296.55 467.66h5.2M296.55 481.31h5.2" stroke="#1a1a1a" stroke-width="1" fill="none"/>
<text x="284.05" y="545.85" font-size="9.5" text-anchor="middle" font-weight="normal" >-</text>
<text x="298.55" y="545.75" font-size="9" text-anchor="middle" font-weight="normal" >+</text>
<text x="291.80" y="557.05" font-size="9.2" text-anchor="middle" font-weight="normal" >8</text>
<text x="245.70" y="463.80" font-size="15" text-anchor="middle" font-weight="normal" style="stroke-width:0.55px">*</text>
<text x="299.40" y="468.40" font-size="15" text-anchor="middle" font-weight="normal" style="stroke-width:0.55px">*</text>
<g stroke="#3c3c3c" stroke-width="1" fill="none">
<path d="M363.4 454.20V535.75H471.59999999999997"/>
<path d="M361.09999999999997 535.75H363.4"/>
<path d="M361.09999999999997 519.50H363.4"/>
<path d="M361.09999999999997 503.25H363.4"/>
<path d="M361.09999999999997 487.00H363.4"/>
<path d="M361.09999999999997 470.75H363.4"/>
<path d="M361.09999999999997 454.50H363.4"/>
<path d="M417.4 535.75v2M471.59999999999997 535.75v2"/>
</g>
<text x="359.20" y="539.15" font-size="9.5" text-anchor="end" font-weight="normal" textLength="4.75" lengthAdjust="spacingAndGlyphs">0</text>
<text x="359.20" y="522.90" font-size="9.5" text-anchor="end" font-weight="normal" textLength="9.51" lengthAdjust="spacingAndGlyphs">20</text>
<text x="359.20" y="506.65" font-size="9.5" text-anchor="end" font-weight="normal" textLength="9.51" lengthAdjust="spacingAndGlyphs">40</text>
<text x="359.20" y="490.40" font-size="9.5" text-anchor="end" font-weight="normal" textLength="9.51" lengthAdjust="spacingAndGlyphs">60</text>
<text x="359.20" y="474.15" font-size="9.5" text-anchor="end" font-weight="normal" textLength="9.51" lengthAdjust="spacingAndGlyphs">80</text>
<text x="359.20" y="457.90" font-size="9.5" text-anchor="end" font-weight="normal" textLength="14.26" lengthAdjust="spacingAndGlyphs">100</text>
<text x="417.80" y="441.20" font-size="10.2" text-anchor="middle" font-weight="normal" >Control siRNA-C1</text>
<rect x="375.10" y="475.79" width="15.3" height="59.96" fill="#707070" stroke="#0c0c0c" stroke-width="1"/>
<rect x="390.40" y="466.69" width="15.3" height="69.06" fill="#272727" stroke="#0c0c0c" stroke-width="1"/>
<path d="M374.60 535.75H406.20" stroke="#0c0c0c" stroke-width="1.4"/>
<path d="M382.75 475.38V476.19M380.15 475.38h5.2M380.15 476.19h5.2" stroke="#1a1a1a" stroke-width="1" fill="none"/>
<path d="M398.05 465.63V467.74M395.45 465.63h5.2M395.45 467.74h5.2" stroke="#1a1a1a" stroke-width="1" fill="none"/>
<text x="382.95" y="545.85" font-size="9.5" text-anchor="middle" font-weight="normal" >-</text>
<text x="397.45" y="545.75" font-size="9" text-anchor="middle" font-weight="normal" >+</text>
<text x="389.50" y="557.05" font-size="9.2" text-anchor="middle" font-weight="normal" >3</text>
<rect x="429.10" y="491.23" width="15.3" height="44.52" fill="#707070" stroke="#0c0c0c" stroke-width="1"/>
<rect x="444.40" y="470.75" width="15.3" height="65.00" fill="#272727" stroke="#0c0c0c" stroke-width="1"/>
<path d="M428.60 535.75H460.20" stroke="#0c0c0c" stroke-width="1.4"/>
<path d="M436.75 489.44V493.01M434.15 489.44h5.2M434.15 493.01h5.2" stroke="#1a1a1a" stroke-width="1" fill="none"/>
<path d="M452.05 468.88V472.62M449.45 468.88h5.2M449.45 472.62h5.2" stroke="#1a1a1a" stroke-width="1" fill="none"/>
<text x="436.95" y="545.85" font-size="9.5" text-anchor="middle" font-weight="normal" >-</text>
<text x="451.45" y="545.75" font-size="9" text-anchor="middle" font-weight="normal" >+</text>
<text x="444.70" y="557.05" font-size="9.2" text-anchor="middle" font-weight="normal" >8</text>
<text x="397.90" y="465.60" font-size="15" text-anchor="middle" font-weight="normal" style="stroke-width:0.55px">*</text>
<text x="451.90" y="469.60" font-size="15" text-anchor="middle" font-weight="normal" style="stroke-width:0.55px">*</text>
<text x="468.20" y="546.55" font-size="9.2" text-anchor="start" font-weight="normal" >GDNF</text>
<text x="468.40" y="557.05" font-size="9.2" text-anchor="start" font-weight="normal" >d</text>
<g stroke="#3c3c3c" stroke-width="1" fill="none">
<path d="M58.25 578.70V660.25H166.45"/>
<path d="M55.95 660.25H58.25"/>
<path d="M55.95 644.00H58.25"/>
<path d="M55.95 627.75H58.25"/>
<path d="M55.95 611.50H58.25"/>
<path d="M55.95 595.25H58.25"/>
<path d="M55.95 579.00H58.25"/>
<path d="M112.25 660.25v2M166.45 660.25v2"/>
</g>
<text x="54.05" y="663.65" font-size="9.5" text-anchor="end" font-weight="normal" textLength="4.75" lengthAdjust="spacingAndGlyphs">0</text>
<text x="54.05" y="647.40" font-size="9.5" text-anchor="end" font-weight="normal" textLength="9.51" lengthAdjust="spacingAndGlyphs">20</text>
<text x="54.05" y="631.15" font-size="9.5" text-anchor="end" font-weight="normal" textLength="9.51" lengthAdjust="spacingAndGlyphs">40</text>
<text x="54.05" y="614.90" font-size="9.5" text-anchor="end" font-weight="normal" textLength="9.51" lengthAdjust="spacingAndGlyphs">60</text>
<text x="54.05" y="598.65" font-size="9.5" text-anchor="end" font-weight="normal" textLength="9.51" lengthAdjust="spacingAndGlyphs">80</text>
<text x="54.05" y="582.40" font-size="9.5" text-anchor="end" font-weight="normal" textLength="14.26" lengthAdjust="spacingAndGlyphs">100</text>
<text x="110.60" y="577.10" font-size="10.2" text-anchor="middle" font-weight="normal" >Control siRNA-C2</text>
<rect x="69.95" y="598.99" width="15.3" height="61.26" fill="#707070" stroke="#0c0c0c" stroke-width="1"/>
<rect x="85.25" y="592.24" width="15.3" height="68.01" fill="#272727" stroke="#0c0c0c" stroke-width="1"/>
<path d="M69.45 660.25H101.05" stroke="#0c0c0c" stroke-width="1.4"/>
<path d="M77.60 598.26V599.72M75.00 598.26h5.2M75.00 599.72h5.2" stroke="#1a1a1a" stroke-width="1" fill="none"/>
<path d="M92.90 591.51V592.98M90.30 591.51h5.2M90.30 592.98h5.2" stroke="#1a1a1a" stroke-width="1" fill="none"/>
<text x="76.90" y="670.35" font-size="9.5" text-anchor="middle" font-weight="normal" >-</text>
<text x="91.40" y="670.25" font-size="9" text-anchor="middle" font-weight="normal" >+</text>
<text x="83.45" y="681.55" font-size="9.2" text-anchor="middle" font-weight="normal" >3</text>
<rect x="123.95" y="612.96" width="15.3" height="47.29" fill="#707070" stroke="#0c0c0c" stroke-width="1"/>
<rect x="139.25" y="596.47" width="15.3" height="63.78" fill="#272727" stroke="#0c0c0c" stroke-width="1"/>
<path d="M123.45 660.25H155.05" stroke="#0c0c0c" stroke-width="1.4"/>
<path d="M131.60 610.93V614.99M129.00 610.93h5.2M129.00 614.99h5.2" stroke="#1a1a1a" stroke-width="1" fill="none"/>
<path d="M146.90 594.44V598.50M144.30 594.44h5.2M144.30 598.50h5.2" stroke="#1a1a1a" stroke-width="1" fill="none"/>
<text x="130.90" y="670.35" font-size="9.5" text-anchor="middle" font-weight="normal" >-</text>
<text x="145.40" y="670.25" font-size="9" text-anchor="middle" font-weight="normal" >+</text>
<text x="138.65" y="681.55" font-size="9.2" text-anchor="middle" font-weight="normal" >8</text>
<text x="93.90" y="591.60" font-size="15" text-anchor="middle" font-weight="normal" style="stroke-width:0.55px">*</text>
<text x="147.10" y="594.80" font-size="15" text-anchor="middle" font-weight="normal" style="stroke-width:0.55px">*</text>
<g stroke="#3c3c3c" stroke-width="1" fill="none">
<path d="M210.5 578.70V660.25H318.7"/>
<path d="M208.2 660.25H210.5"/>
<path d="M208.2 644.00H210.5"/>
<path d="M208.2 627.75H210.5"/>
<path d="M208.2 611.50H210.5"/>
<path d="M208.2 595.25H210.5"/>
<path d="M208.2 579.00H210.5"/>
<path d="M264.5 660.25v2M318.7 660.25v2"/>
</g>
<text x="206.30" y="663.65" font-size="9.5" text-anchor="end" font-weight="normal" textLength="4.75" lengthAdjust="spacingAndGlyphs">0</text>
<text x="206.30" y="647.40" font-size="9.5" text-anchor="end" font-weight="normal" textLength="9.51" lengthAdjust="spacingAndGlyphs">20</text>
<text x="206.30" y="631.15" font-size="9.5" text-anchor="end" font-weight="normal" textLength="9.51" lengthAdjust="spacingAndGlyphs">40</text>
<text x="206.30" y="614.90" font-size="9.5" text-anchor="end" font-weight="normal" textLength="9.51" lengthAdjust="spacingAndGlyphs">60</text>
<text x="206.30" y="598.65" font-size="9.5" text-anchor="end" font-weight="normal" textLength="9.51" lengthAdjust="spacingAndGlyphs">80</text>
<text x="206.30" y="582.40" font-size="9.5" text-anchor="end" font-weight="normal" textLength="14.26" lengthAdjust="spacingAndGlyphs">100</text>
<text x="262.90" y="577.10" font-size="10.2" text-anchor="middle" font-weight="normal" textLength="78.6" lengthAdjust="spacingAndGlyphs">GFR<tspan font-size="12">α</tspan>1 siRNA-2</text>
<rect x="222.20" y="600.29" width="15.3" height="59.96" fill="#707070" stroke="#0c0c0c" stroke-width="1"/>
<rect x="237.50" y="597.28" width="15.3" height="62.97" fill="#272727" stroke="#0c0c0c" stroke-width="1"/>
<path d="M221.70 660.25H253.30" stroke="#0c0c0c" stroke-width="1.4"/>
<path d="M229.85 596.31V604.27M227.25 596.31h5.2M227.25 604.27h5.2" stroke="#1a1a1a" stroke-width="1" fill="none"/>
<path d="M245.15 593.54V601.02M242.55 593.54h5.2M242.55 601.02h5.2" stroke="#1a1a1a" stroke-width="1" fill="none"/>
<text x="232.55" y="670.35" font-size="9.5" text-anchor="middle" font-weight="normal" >-</text>
<text x="247.05" y="670.25" font-size="9" text-anchor="middle" font-weight="normal" >+</text>
<text x="239.10" y="681.55" font-size="9.2" text-anchor="middle" font-weight="normal" >3</text>
<rect x="276.20" y="608.49" width="15.3" height="51.76" fill="#707070" stroke="#0c0c0c" stroke-width="1"/>
<rect x="291.50" y="597.28" width="15.3" height="62.97" fill="#272727" stroke="#0c0c0c" stroke-width="1"/>
<path d="M275.70 660.25H307.30" stroke="#0c0c0c" stroke-width="1.4"/>
<path d="M283.85 602.81V614.18M281.25 602.81h5.2M281.25 614.18h5.2" stroke="#1a1a1a" stroke-width="1" fill="none"/>
<path d="M299.15 594.52V600.04M296.55 594.52h5.2M296.55 600.04h5.2" stroke="#1a1a1a" stroke-width="1" fill="none"/>
<text x="286.55" y="670.35" font-size="9.5" text-anchor="middle" font-weight="normal" >-</text>
<text x="301.05" y="670.25" font-size="9" text-anchor="middle" font-weight="normal" >+</text>
<text x="294.30" y="681.55" font-size="9.2" text-anchor="middle" font-weight="normal" >8</text>
<g stroke="#3c3c3c" stroke-width="1" fill="none">
<path d="M363.6 578.70V660.25H471.8"/>
<path d="M361.3 660.25H363.6"/>
<path d="M361.3 644.00H363.6"/>
<path d="M361.3 627.75H363.6"/>
<path d="M361.3 611.50H363.6"/>
<path d="M361.3 595.25H363.6"/>
<path d="M361.3 579.00H363.6"/>
<path d="M417.6 660.25v2M471.8 660.25v2"/>
</g>
<text x="359.40" y="663.65" font-size="9.5" text-anchor="end" font-weight="normal" textLength="4.75" lengthAdjust="spacingAndGlyphs">0</text>
<text x="359.40" y="647.40" font-size="9.5" text-anchor="end" font-weight="normal" textLength="9.51" lengthAdjust="spacingAndGlyphs">20</text>
<text x="359.40" y="631.15" font-size="9.5" text-anchor="end" font-weight="normal" textLength="9.51" lengthAdjust="spacingAndGlyphs">40</text>
<text x="359.40" y="614.90" font-size="9.5" text-anchor="end" font-weight="normal" textLength="9.51" lengthAdjust="spacingAndGlyphs">60</text>
<text x="359.40" y="598.65" font-size="9.5" text-anchor="end" font-weight="normal" textLength="9.51" lengthAdjust="spacingAndGlyphs">80</text>
<text x="359.40" y="582.40" font-size="9.5" text-anchor="end" font-weight="normal" textLength="14.26" lengthAdjust="spacingAndGlyphs">100</text>
<text x="417.90" y="577.10" font-size="10.2" text-anchor="middle" font-weight="normal" textLength="63.6" lengthAdjust="spacingAndGlyphs">RET siRNA-6</text>
<rect x="375.30" y="606.46" width="15.3" height="53.79" fill="#707070" stroke="#0c0c0c" stroke-width="1"/>
<rect x="390.60" y="605.98" width="15.3" height="54.27" fill="#272727" stroke="#0c0c0c" stroke-width="1"/>
<path d="M374.80 660.25H406.40" stroke="#0c0c0c" stroke-width="1.4"/>
<path d="M382.95 605.73V607.19M380.35 605.73h5.2M380.35 607.19h5.2" stroke="#1a1a1a" stroke-width="1" fill="none"/>
<path d="M398.25 605.24V606.71M395.65 605.24h5.2M395.65 606.71h5.2" stroke="#1a1a1a" stroke-width="1" fill="none"/>
<text x="383.15" y="670.35" font-size="9.5" text-anchor="middle" font-weight="normal" >-</text>
<text x="397.65" y="670.25" font-size="9" text-anchor="middle" font-weight="normal" >+</text>
<text x="389.70" y="681.55" font-size="9.2" text-anchor="middle" font-weight="normal" >3</text>
<rect x="429.30" y="616.54" width="15.3" height="43.71" fill="#707070" stroke="#0c0c0c" stroke-width="1"/>
<rect x="444.60" y="613.53" width="15.3" height="46.72" fill="#272727" stroke="#0c0c0c" stroke-width="1"/>
<path d="M428.80 660.25H460.40" stroke="#0c0c0c" stroke-width="1.4"/>
<path d="M436.95 614.26V618.81M434.35 614.26h5.2M434.35 618.81h5.2" stroke="#1a1a1a" stroke-width="1" fill="none"/>
<path d="M452.25 611.50V615.56M449.65 611.50h5.2M449.65 615.56h5.2" stroke="#1a1a1a" stroke-width="1" fill="none"/>
<text x="437.15" y="670.35" font-size="9.5" text-anchor="middle" font-weight="normal" >-</text>
<text x="451.65" y="670.25" font-size="9" text-anchor="middle" font-weight="normal" >+</text>
<text x="444.90" y="681.55" font-size="9.2" text-anchor="middle" font-weight="normal" >8</text>
<text x="468.40" y="671.05" font-size="9.2" text-anchor="start" font-weight="normal" >GDNF</text>
<text x="468.60" y="681.55" font-size="9.2" text-anchor="start" font-weight="normal" >d</text>
<text transform="translate(28.4 559.6) rotate(-90)" font-size="9.6" text-anchor="middle" textLength="47.2" lengthAdjust="spacingAndGlyphs">% Live cells</text>
<rect x="0.5" y="0.5" width="519" height="698" fill="none" stroke="#000" stroke-width="1"/>
</svg></body></html>
